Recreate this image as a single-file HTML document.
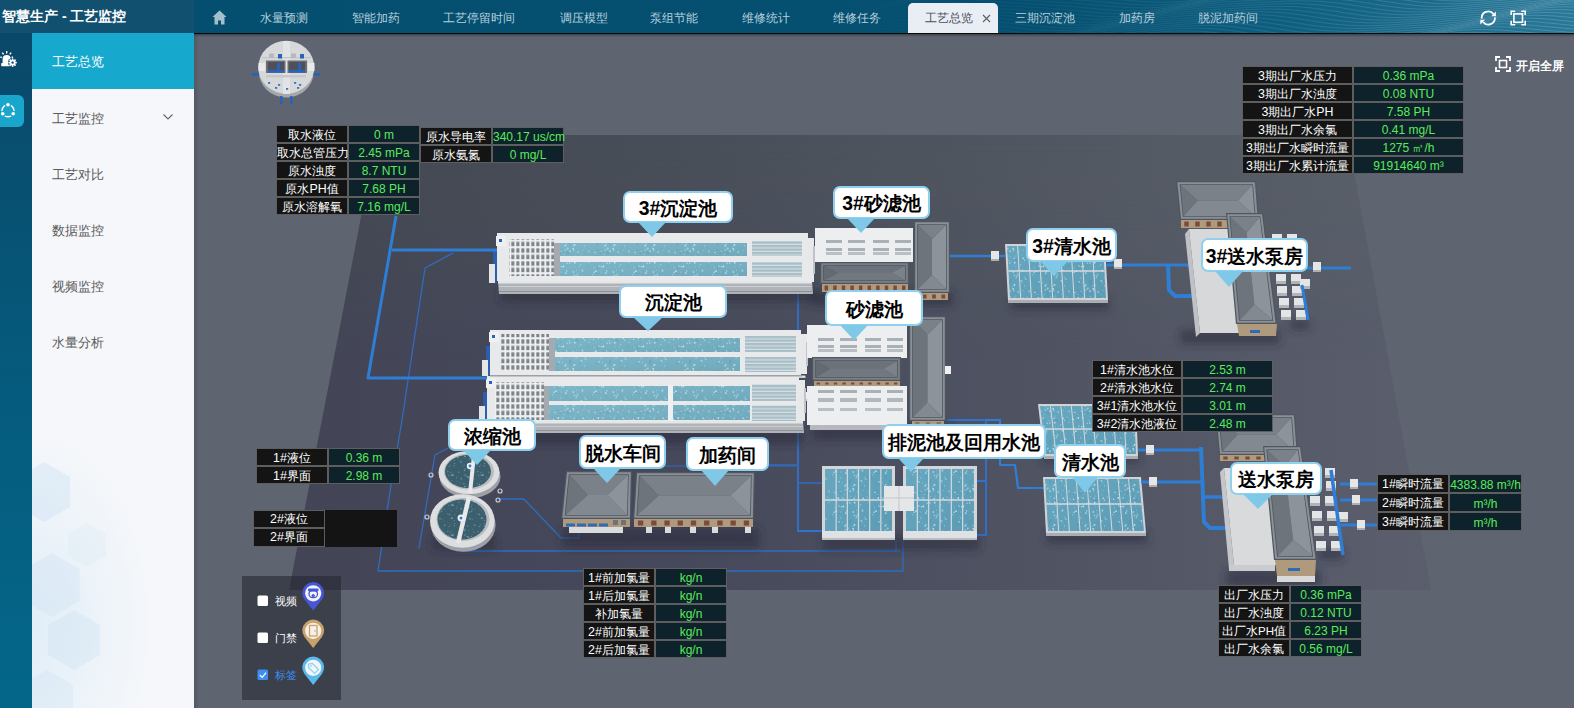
<!DOCTYPE html>
<html><head><meta charset="utf-8">
<style>
*{margin:0;padding:0;box-sizing:border-box}
html,body{width:1574px;height:708px;overflow:hidden;font-family:"Liberation Sans",sans-serif;background:#5e6470;position:relative}
.abs{position:absolute}
#hdrL{left:0;top:0;width:194px;height:33px;background:#12506f;color:#fff;font-size:14px;font-weight:700;line-height:32px;padding-left:2px}
#nav{left:194px;top:0;width:1380px;height:33px;background:linear-gradient(90deg,#044f70 0%,#054f70 60%,#0f5f80 80%,#2a7898 100%);overflow:hidden}
#navline{left:194px;top:33px;width:1380px;height:1px;background:#0a0a0a}
.tab{position:absolute;top:0;height:33px;line-height:37px;font-size:12.4px;font-weight:500;color:#b7cfdb;white-space:nowrap}
#icol{left:0;top:33px;width:32px;height:675px;background:linear-gradient(180deg,#0a4869 0%,#055a7c 50%,#04678a 100%)}
#menu{left:32px;top:33px;width:162px;height:675px;background:#f5f7fa;overflow:hidden}
.mi{position:absolute;left:0;width:162px;height:56px;line-height:59px;padding-left:20px;font-size:12.5px;color:#5a5a5a}
#scene{left:0;top:0}
.tb{position:absolute}
.r{display:flex;height:18px}
.l,.v{display:block;border:1px solid #5e5e5e;height:18px;line-height:16px;text-align:center;font-size:12px;white-space:nowrap;overflow:visible}
.l{background:#141414;color:#fff;font-weight:500;font-size:12.4px}
.v{background:#0e222c;color:#5aeb5a}
.lb{position:absolute;background:#fff;border:2px solid #8fd0ee;border-radius:7px;font-weight:bold;font-size:19.4px;color:#000;text-align:center;white-space:nowrap}
.tri{position:absolute;width:0;height:0;border-left:14px solid transparent;border-right:14px solid transparent;border-top:14px solid #7fc8e8}
</style></head><body>

<div id="hdrL" class="abs">智慧生产 - 工艺监控</div>
<div id="nav" class="abs">
  <svg class="abs" style="left:620px;top:0" width="760" height="33"><defs><linearGradient id="gWv" x1="0" x2="1" y1="0" y2="0"><stop offset="0" stop-color="#fff" stop-opacity="0"/><stop offset="0.45" stop-color="#fff" stop-opacity="0.35"/><stop offset="1" stop-color="#fff" stop-opacity="0.9"/></linearGradient><mask id="mWv"><rect width="760" height="33" fill="url(#gWv)"/></mask></defs><g mask="url(#mWv)" opacity="0.32"><polyline points="0,-22.0 8,-20.7 16,-19.5 24,-18.5 32,-17.6 40,-17.0 48,-16.6 56,-16.4 64,-16.4 72,-16.7 80,-17.0 88,-17.5 96,-18.1 104,-18.6 112,-19.2 120,-19.7 128,-20.3 136,-20.8 144,-21.4 152,-22.1 160,-22.8 168,-23.7 176,-24.8 184,-25.9 192,-27.2 200,-28.5 208,-29.9 216,-31.2 224,-32.5 232,-33.5 240,-34.4 248,-35.0 256,-35.3 264,-35.3 272,-35.1 280,-34.6 288,-33.9 296,-33.1 304,-32.2 312,-31.2 320,-30.4 328,-29.6 336,-28.9 344,-28.3 352,-27.8 360,-27.3 368,-26.9 376,-26.6 384,-26.2 392,-25.8 400,-25.3 408,-24.9 416,-24.4 424,-24.0 432,-23.7 440,-23.5 448,-23.5 456,-23.8 464,-24.3 472,-25.0 480,-26.0 488,-27.3 496,-28.7 504,-30.2 512,-31.8 520,-33.3 528,-34.8 536,-36.1 544,-37.2 552,-38.1 560,-38.9 568,-39.4 576,-39.7 584,-39.9 592,-40.0 600,-40.0 608,-40.0 616,-40.0 624,-40.0 632,-39.9 640,-39.9 648,-39.8 656,-39.6 664,-39.3 672,-38.8 680,-38.2 688,-37.4 696,-36.4 704,-35.3 712,-34.2 720,-33.0 728,-31.9 736,-31.0 744,-30.2 752,-29.6 760,-29.4" fill="none" stroke="#d8eef7" stroke-width="0.7"/><polyline points="0,-17.6 8,-16.4 16,-15.4 24,-14.6 32,-14.1 40,-13.7 48,-13.6 56,-13.8 64,-14.0 72,-14.4 80,-14.9 88,-15.4 96,-16.0 104,-16.5 112,-17.0 120,-17.5 128,-18.1 136,-18.7 144,-19.4 152,-20.2 160,-21.1 168,-22.2 176,-23.4 184,-24.7 192,-26.1 200,-27.5 208,-28.8 216,-30.0 224,-31.0 232,-31.8 240,-32.3 248,-32.5 256,-32.4 264,-32.1 272,-31.5 280,-30.8 288,-30.0 296,-29.1 304,-28.2 312,-27.4 320,-26.6 328,-26.0 336,-25.4 344,-24.9 352,-24.5 360,-24.1 368,-23.7 376,-23.3 384,-22.9 392,-22.4 400,-21.9 408,-21.5 416,-21.1 424,-20.8 432,-20.7 440,-20.7 448,-21.0 456,-21.6 464,-22.5 472,-23.5 480,-24.8 488,-26.3 496,-27.8 504,-29.4 512,-30.9 520,-32.3 528,-33.6 536,-34.6 544,-35.5 552,-36.1 560,-36.6 568,-36.9 576,-37.0 584,-37.1 592,-37.2 600,-37.2 608,-37.2 616,-37.2 624,-37.2 632,-37.2 640,-37.0 648,-36.8 656,-36.4 664,-35.9 672,-35.2 680,-34.3 688,-33.3 696,-32.2 704,-31.0 712,-29.9 720,-28.8 728,-27.9 736,-27.2 744,-26.7 752,-26.5 760,-26.6" fill="none" stroke="#d8eef7" stroke-width="0.7"/><polyline points="0,-13.3 8,-12.4 16,-11.7 24,-11.2 32,-11.0 40,-10.9 48,-11.1 56,-11.4 64,-11.8 72,-12.3 80,-12.8 88,-13.3 96,-13.8 104,-14.3 112,-14.8 120,-15.3 128,-16.0 136,-16.7 144,-17.5 152,-18.6 160,-19.7 168,-21.0 176,-22.3 184,-23.7 192,-25.1 200,-26.4 208,-27.5 216,-28.5 224,-29.2 232,-29.6 240,-29.7 248,-29.5 256,-29.1 264,-28.5 272,-27.7 280,-26.9 288,-26.0 296,-25.2 304,-24.4 312,-23.7 320,-23.1 328,-22.6 336,-22.1 344,-21.7 352,-21.3 360,-20.9 368,-20.5 376,-20.0 384,-19.5 392,-19.0 400,-18.5 408,-18.1 416,-17.9 424,-17.8 432,-17.9 440,-18.3 448,-19.0 456,-19.9 464,-21.1 472,-22.4 480,-23.9 488,-25.5 496,-27.0 504,-28.5 512,-29.9 520,-31.1 528,-32.0 536,-32.8 544,-33.4 552,-33.8 560,-34.0 568,-34.2 576,-34.3 584,-34.3 592,-34.4 600,-34.4 608,-34.5 616,-34.5 624,-34.4 632,-34.3 640,-34.0 648,-33.6 656,-33.0 664,-32.2 672,-31.3 680,-30.2 688,-29.1 696,-27.9 704,-26.7 712,-25.7 720,-24.9 728,-24.2 736,-23.9 744,-23.8 752,-24.0 760,-24.4" fill="none" stroke="#d8eef7" stroke-width="0.7"/><polyline points="0,-9.4 8,-8.8 16,-8.4 24,-8.2 32,-8.2 40,-8.4 48,-8.8 56,-9.2 64,-9.6 72,-10.1 80,-10.6 88,-11.0 96,-11.5 104,-12.0 112,-12.6 120,-13.2 128,-14.0 136,-14.9 144,-16.0 152,-17.2 160,-18.5 168,-19.9 176,-21.3 184,-22.7 192,-24.0 200,-25.1 208,-25.9 216,-26.5 224,-26.8 232,-26.8 240,-26.6 248,-26.1 256,-25.4 264,-24.7 272,-23.8 280,-23.0 288,-22.2 296,-21.4 304,-20.8 312,-20.2 320,-19.7 328,-19.3 336,-18.9 344,-18.5 352,-18.0 360,-17.6 368,-17.0 376,-16.5 384,-16.0 392,-15.5 400,-15.2 408,-14.9 416,-14.9 424,-15.2 432,-15.6 440,-16.4 448,-17.4 456,-18.7 464,-20.1 472,-21.6 480,-23.1 488,-24.7 496,-26.1 504,-27.4 512,-28.5 520,-29.4 528,-30.1 536,-30.6 544,-31.0 552,-31.2 560,-31.4 568,-31.5 576,-31.5 584,-31.6 592,-31.7 600,-31.7 608,-31.7 616,-31.7 624,-31.5 632,-31.2 640,-30.7 648,-30.0 656,-29.2 664,-28.2 672,-27.1 680,-25.9 688,-24.7 696,-23.6 704,-22.6 712,-21.8 720,-21.3 728,-21.0 736,-21.0 744,-21.3 752,-21.8 760,-22.6" fill="none" stroke="#d8eef7" stroke-width="0.7"/><polyline points="0,-5.9 8,-5.6 16,-5.5 24,-5.6 32,-5.8 40,-6.1 48,-6.5 56,-7.0 64,-7.4 72,-7.9 80,-8.3 88,-8.8 96,-9.3 104,-9.9 112,-10.5 120,-11.4 128,-12.4 136,-13.5 144,-14.7 152,-16.1 160,-17.5 168,-19.0 176,-20.3 184,-21.5 192,-22.5 200,-23.3 208,-23.8 216,-24.0 224,-23.9 232,-23.6 240,-23.1 248,-22.4 256,-21.6 264,-20.8 272,-20.0 280,-19.2 288,-18.5 296,-17.9 304,-17.4 312,-16.9 320,-16.5 328,-16.1 336,-15.6 344,-15.2 352,-14.6 360,-14.1 368,-13.5 376,-13.0 384,-12.5 392,-12.2 400,-12.0 408,-12.1 416,-12.4 424,-13.0 432,-13.9 440,-15.0 448,-16.3 456,-17.7 464,-19.2 472,-20.8 480,-22.3 488,-23.7 496,-24.9 504,-25.9 512,-26.7 520,-27.4 528,-27.8 536,-28.2 544,-28.4 552,-28.5 560,-28.6 568,-28.8 576,-28.9 584,-28.9 592,-29.0 600,-29.0 608,-28.9 616,-28.7 624,-28.3 632,-27.8 640,-27.1 648,-26.1 656,-25.1 664,-23.9 672,-22.7 680,-21.6 688,-20.5 696,-19.6 704,-18.9 712,-18.4 720,-18.2 728,-18.3 736,-18.7 744,-19.3 752,-20.0 760,-20.9" fill="none" stroke="#d8eef7" stroke-width="0.7"/><polyline points="0,-2.8 8,-2.8 16,-2.9 24,-3.1 32,-3.5 40,-3.9 48,-4.3 56,-4.7 64,-5.1 72,-5.5 80,-6.0 88,-6.5 96,-7.1 104,-7.9 112,-8.8 120,-9.8 128,-11.0 136,-12.3 144,-13.7 152,-15.2 160,-16.6 168,-17.9 176,-19.0 184,-20.0 192,-20.7 200,-21.1 208,-21.2 216,-21.0 224,-20.6 232,-20.0 240,-19.3 248,-18.5 256,-17.7 264,-16.9 272,-16.2 280,-15.6 288,-15.0 296,-14.5 304,-14.1 312,-13.7 320,-13.2 328,-12.8 336,-12.3 344,-11.7 352,-11.1 360,-10.5 368,-10.0 376,-9.6 384,-9.3 392,-9.2 400,-9.3 408,-9.7 416,-10.4 424,-11.3 432,-12.5 440,-13.9 448,-15.4 456,-16.9 464,-18.4 472,-19.9 480,-21.2 488,-22.3 496,-23.3 504,-24.0 512,-24.6 520,-25.0 528,-25.3 536,-25.5 544,-25.7 552,-25.9 560,-26.0 568,-26.1 576,-26.2 584,-26.3 592,-26.3 600,-26.2 608,-25.9 616,-25.5 624,-24.9 632,-24.1 640,-23.1 648,-22.0 656,-20.8 664,-19.6 672,-18.4 680,-17.4 688,-16.5 696,-15.9 704,-15.5 712,-15.5 720,-15.7 728,-16.1 736,-16.7 744,-17.5 752,-18.4 760,-19.3" fill="none" stroke="#d8eef7" stroke-width="0.7"/><polyline points="0,-0.1 8,-0.2 16,-0.5 24,-0.8 32,-1.2 40,-1.6 48,-2.0 56,-2.4 64,-2.8 72,-3.2 80,-3.8 88,-4.4 96,-5.2 104,-6.2 112,-7.3 120,-8.5 128,-9.9 136,-11.3 144,-12.8 152,-14.2 160,-15.5 168,-16.5 176,-17.4 184,-18.0 192,-18.3 200,-18.3 208,-18.1 216,-17.6 224,-17.0 232,-16.3 240,-15.5 248,-14.7 256,-14.0 264,-13.3 272,-12.7 280,-12.2 288,-11.7 296,-11.3 304,-10.8 312,-10.4 320,-9.9 328,-9.3 336,-8.7 344,-8.1 352,-7.5 360,-7.0 368,-6.6 376,-6.4 384,-6.3 392,-6.6 400,-7.1 408,-7.8 416,-8.8 424,-10.1 432,-11.5 440,-13.0 448,-14.5 456,-16.0 464,-17.4 472,-18.7 480,-19.8 488,-20.6 496,-21.3 504,-21.9 512,-22.2 520,-22.5 528,-22.7 536,-22.9 544,-23.1 552,-23.2 560,-23.4 568,-23.5 576,-23.6 584,-23.6 592,-23.4 600,-23.1 608,-22.6 616,-21.9 624,-21.0 632,-20.0 640,-18.8 648,-17.6 656,-16.4 664,-15.3 672,-14.3 680,-13.5 688,-13.0 696,-12.7 704,-12.7 712,-13.0 720,-13.5 728,-14.2 736,-15.0 744,-15.9 752,-16.8 760,-17.7" fill="none" stroke="#d8eef7" stroke-width="0.7"/><polyline points="0,2.4 8,2.2 16,1.8 24,1.5 32,1.1 40,0.8 48,0.4 56,-0.0 64,-0.5 72,-1.0 80,-1.7 88,-2.6 96,-3.6 104,-4.8 112,-6.1 120,-7.5 128,-9.0 136,-10.4 144,-11.8 152,-13.0 160,-14.0 168,-14.8 176,-15.3 184,-15.5 192,-15.4 200,-15.1 208,-14.6 216,-14.0 224,-13.2 232,-12.5 240,-11.7 248,-11.0 256,-10.4 264,-9.8 272,-9.3 280,-8.9 288,-8.4 296,-8.0 304,-7.5 312,-7.0 320,-6.4 328,-5.8 336,-5.1 344,-4.5 352,-4.0 360,-3.7 368,-3.5 376,-3.5 384,-3.8 392,-4.4 400,-5.3 408,-6.4 416,-7.7 424,-9.1 432,-10.6 440,-12.2 448,-13.6 456,-15.0 464,-16.2 472,-17.2 480,-18.0 488,-18.6 496,-19.1 504,-19.4 512,-19.7 520,-19.9 528,-20.1 536,-20.3 544,-20.5 552,-20.7 560,-20.8 568,-20.9 576,-20.8 584,-20.6 592,-20.2 600,-19.7 608,-18.9 616,-18.0 624,-16.9 632,-15.7 640,-14.4 648,-13.2 656,-12.2 664,-11.2 672,-10.5 680,-10.1 688,-9.9 696,-10.0 704,-10.4 712,-10.9 720,-11.7 728,-12.5 736,-13.4 744,-14.3 752,-15.1 760,-16.0" fill="none" stroke="#d8eef7" stroke-width="0.7"/><polyline points="0,4.8 8,4.5 16,4.2 24,3.9 32,3.5 40,3.2 48,2.8 56,2.3 64,1.7 72,0.9 80,0.0 88,-1.1 96,-2.3 104,-3.7 112,-5.1 120,-6.6 128,-8.0 136,-9.4 144,-10.5 152,-11.5 160,-12.1 168,-12.5 176,-12.7 184,-12.5 192,-12.1 200,-11.6 208,-10.9 216,-10.2 224,-9.4 232,-8.7 240,-8.1 248,-7.5 256,-7.0 264,-6.5 272,-6.1 280,-5.6 288,-5.2 296,-4.6 304,-4.1 312,-3.4 320,-2.8 328,-2.1 336,-1.5 344,-1.0 352,-0.7 360,-0.6 368,-0.7 376,-1.1 384,-1.8 392,-2.8 400,-3.9 408,-5.3 416,-6.8 424,-8.3 432,-9.8 440,-11.2 448,-12.5 456,-13.6 464,-14.5 472,-15.3 480,-15.8 488,-16.3 496,-16.6 504,-16.9 512,-17.1 520,-17.4 528,-17.6 536,-17.8 544,-18.0 552,-18.1 560,-18.2 568,-18.1 576,-17.8 584,-17.4 592,-16.7 600,-15.9 608,-14.9 616,-13.7 624,-12.5 632,-11.3 640,-10.1 648,-9.1 656,-8.2 664,-7.6 672,-7.3 680,-7.2 688,-7.4 696,-7.8 704,-8.4 712,-9.1 720,-10.0 728,-10.8 736,-11.7 744,-12.5 752,-13.3 760,-14.1" fill="none" stroke="#d8eef7" stroke-width="0.7"/><polyline points="0,7.2 8,6.9 16,6.6 24,6.3 32,6.0 40,5.5 48,5.0 56,4.4 64,3.6 72,2.6 80,1.5 88,0.2 96,-1.3 104,-2.7 112,-4.2 120,-5.6 128,-6.9 136,-8.0 144,-8.9 152,-9.5 160,-9.8 168,-9.8 176,-9.6 184,-9.1 192,-8.6 200,-7.9 208,-7.2 216,-6.5 224,-5.8 232,-5.2 240,-4.6 248,-4.1 256,-3.7 264,-3.2 272,-2.8 280,-2.3 288,-1.7 296,-1.1 304,-0.4 312,0.2 320,0.9 328,1.5 336,1.9 344,2.2 352,2.2 360,2.0 368,1.5 376,0.7 384,-0.3 392,-1.5 400,-2.9 408,-4.4 416,-5.9 424,-7.4 432,-8.7 440,-10.0 448,-11.0 456,-11.9 464,-12.5 472,-13.1 480,-13.5 488,-13.8 496,-14.1 504,-14.4 512,-14.6 520,-14.9 528,-15.1 536,-15.3 544,-15.4 552,-15.4 560,-15.3 568,-15.0 576,-14.5 584,-13.7 592,-12.8 600,-11.7 608,-10.6 616,-9.3 624,-8.1 632,-7.0 640,-6.0 648,-5.2 656,-4.7 664,-4.4 672,-4.5 680,-4.7 688,-5.2 696,-5.8 704,-6.6 712,-7.4 720,-8.3 728,-9.1 736,-9.9 744,-10.7 752,-11.4 760,-12.1" fill="none" stroke="#d8eef7" stroke-width="0.7"/><polyline points="0,9.7 8,9.4 16,9.1 24,8.7 32,8.3 40,7.8 48,7.1 56,6.2 64,5.2 72,3.9 80,2.6 88,1.1 96,-0.4 104,-1.9 112,-3.2 120,-4.5 128,-5.5 136,-6.3 144,-6.7 152,-6.9 160,-6.9 168,-6.6 176,-6.1 184,-5.5 192,-4.9 200,-4.2 208,-3.5 216,-2.9 224,-2.3 232,-1.8 240,-1.3 248,-0.9 256,-0.4 264,0.1 272,0.6 280,1.2 288,1.9 296,2.6 304,3.3 312,3.9 320,4.5 328,4.9 336,5.1 344,5.1 352,4.7 360,4.1 368,3.3 376,2.2 384,0.9 392,-0.6 400,-2.1 408,-3.5 416,-5.0 424,-6.3 432,-7.4 440,-8.4 448,-9.2 456,-9.8 464,-10.3 472,-10.7 480,-11.0 488,-11.3 496,-11.6 504,-11.9 512,-12.2 520,-12.4 528,-12.6 536,-12.7 544,-12.7 552,-12.5 560,-12.1 568,-11.5 576,-10.7 584,-9.7 592,-8.6 600,-7.4 608,-6.1 616,-4.9 624,-3.9 632,-3.0 640,-2.3 648,-1.8 656,-1.7 664,-1.8 672,-2.1 680,-2.6 688,-3.3 696,-4.0 704,-4.9 712,-5.7 720,-6.5 728,-7.2 736,-8.0 744,-8.7 752,-9.4 760,-10.2" fill="none" stroke="#d8eef7" stroke-width="0.7"/><polyline points="0,12.2 8,11.9 16,11.5 24,11.1 32,10.5 40,9.7 48,8.8 56,7.7 64,6.4 72,5.0 80,3.5 88,2.0 96,0.5 104,-0.8 112,-2.0 120,-2.9 128,-3.6 136,-4.0 144,-4.1 152,-4.0 160,-3.6 168,-3.1 176,-2.5 184,-1.8 192,-1.2 200,-0.5 208,0.1 216,0.6 224,1.1 232,1.5 240,2.0 248,2.4 256,2.9 264,3.5 272,4.2 280,4.9 288,5.6 296,6.3 304,6.9 312,7.5 320,7.8 328,8.0 336,7.8 344,7.4 352,6.7 360,5.8 368,4.6 376,3.3 384,1.8 392,0.3 400,-1.1 408,-2.5 416,-3.7 424,-4.8 432,-5.7 440,-6.5 448,-7.1 456,-7.5 464,-7.9 472,-8.3 480,-8.6 488,-8.9 496,-9.2 504,-9.5 512,-9.8 520,-9.9 528,-10.0 536,-9.9 544,-9.7 552,-9.2 560,-8.6 568,-7.7 576,-6.6 584,-5.5 592,-4.2 600,-3.0 608,-1.8 616,-0.8 624,0.1 632,0.7 640,1.0 648,1.1 656,0.9 664,0.5 672,-0.0 680,-0.7 688,-1.5 696,-2.3 704,-3.1 712,-3.8 720,-4.6 728,-5.3 736,-6.0 744,-6.7 752,-7.5 760,-8.3" fill="none" stroke="#d8eef7" stroke-width="0.7"/><polyline points="0,14.7 8,14.3 16,13.8 24,13.2 32,12.4 40,11.4 48,10.2 56,8.8 64,7.4 72,5.9 80,4.3 88,2.9 96,1.6 104,0.5 112,-0.3 120,-0.9 128,-1.2 136,-1.2 144,-1.0 152,-0.6 160,-0.1 168,0.5 176,1.2 184,1.8 192,2.4 200,2.9 208,3.4 216,3.9 224,4.3 232,4.8 240,5.3 248,5.8 256,6.4 264,7.1 272,7.9 280,8.6 288,9.3 296,10.0 304,10.5 312,10.7 320,10.8 328,10.6 336,10.1 344,9.3 352,8.2 360,7.0 368,5.6 376,4.2 384,2.7 392,1.3 400,-0.0 408,-1.2 416,-2.2 424,-3.1 432,-3.7 440,-4.3 448,-4.8 456,-5.1 464,-5.5 472,-5.8 480,-6.2 488,-6.5 496,-6.8 504,-7.1 512,-7.3 520,-7.3 528,-7.2 536,-6.8 544,-6.3 552,-5.6 560,-4.6 568,-3.5 576,-2.3 584,-1.0 592,0.2 600,1.3 608,2.3 616,3.0 624,3.6 632,3.8 640,3.8 648,3.6 656,3.1 664,2.5 672,1.8 680,1.1 688,0.3 696,-0.5 704,-1.2 712,-1.9 720,-2.6 728,-3.3 736,-4.0 744,-4.8 752,-5.7 760,-6.7" fill="none" stroke="#d8eef7" stroke-width="0.7"/><polyline points="0,17.1 8,16.6 16,15.9 24,15.0 32,13.9 40,12.6 48,11.2 56,9.7 64,8.2 72,6.7 80,5.3 88,4.1 96,3.1 104,2.3 112,1.8 120,1.6 128,1.7 136,1.9 144,2.4 152,2.9 160,3.5 168,4.1 176,4.7 184,5.3 192,5.8 200,6.3 208,6.7 216,7.1 224,7.6 232,8.1 240,8.7 248,9.4 256,10.1 264,10.9 272,11.7 280,12.4 288,13.0 296,13.4 304,13.6 312,13.6 320,13.3 328,12.7 336,11.8 344,10.7 352,9.4 360,8.0 368,6.5 376,5.1 384,3.7 392,2.5 400,1.4 408,0.4 416,-0.4 424,-1.0 432,-1.5 440,-2.0 448,-2.4 456,-2.7 464,-3.1 472,-3.5 480,-3.8 488,-4.2 496,-4.4 504,-4.6 512,-4.6 520,-4.4 528,-4.0 536,-3.4 544,-2.5 552,-1.5 560,-0.4 568,0.9 576,2.1 584,3.3 592,4.4 600,5.3 608,6.0 616,6.4 624,6.6 632,6.5 640,6.2 648,5.7 656,5.1 664,4.4 672,3.6 680,2.9 688,2.2 696,1.5 704,0.8 712,0.1 720,-0.6 728,-1.3 736,-2.2 744,-3.1 752,-4.1 760,-5.3" fill="none" stroke="#d8eef7" stroke-width="0.7"/><polyline points="0,19.3 8,18.5 16,17.5 24,16.4 32,15.1 40,13.6 48,12.1 56,10.6 64,9.1 72,7.7 80,6.6 88,5.6 96,5.0 104,4.6 112,4.5 120,4.6 128,4.9 136,5.4 144,5.9 152,6.5 160,7.1 168,7.7 176,8.2 184,8.7 192,9.1 200,9.5 208,10.0 216,10.5 224,11.0 232,11.7 240,12.4 248,13.1 256,13.9 264,14.7 272,15.4 280,16.0 288,16.4 296,16.5 304,16.4 312,15.9 320,15.3 328,14.3 336,13.1 344,11.8 352,10.4 360,8.9 368,7.5 376,6.2 384,5.0 392,4.0 400,3.1 408,2.3 416,1.7 424,1.2 432,0.8 440,0.4 448,-0.0 456,-0.4 464,-0.8 472,-1.2 480,-1.5 488,-1.7 496,-1.9 504,-1.8 512,-1.5 520,-1.1 528,-0.4 536,0.5 544,1.6 552,2.8 560,4.1 568,5.3 576,6.5 584,7.5 592,8.3 600,8.9 608,9.2 616,9.3 624,9.2 632,8.8 640,8.3 648,7.7 656,7.0 664,6.2 672,5.5 680,4.9 688,4.2 696,3.5 704,2.9 712,2.1 720,1.4 728,0.5 736,-0.5 744,-1.6 752,-2.8 760,-4.1" fill="none" stroke="#d8eef7" stroke-width="0.7"/><polyline points="0,21.1 8,20.1 16,18.9 24,17.5 32,16.0 40,14.4 48,12.9 56,11.5 64,10.2 72,9.1 80,8.3 88,7.7 96,7.4 104,7.3 112,7.5 120,7.9 128,8.4 136,8.9 144,9.5 152,10.0 160,10.6 168,11.1 176,11.5 184,11.9 192,12.3 200,12.8 208,13.3 216,13.9 224,14.6 232,15.4 240,16.2 248,17.0 256,17.8 264,18.4 272,19.0 280,19.3 288,19.3 296,19.1 304,18.6 312,17.8 320,16.8 328,15.5 336,14.2 344,12.8 352,11.3 360,9.9 368,8.7 376,7.5 384,6.6 392,5.8 400,5.1 408,4.5 416,4.0 424,3.6 432,3.1 440,2.7 448,2.3 456,1.9 464,1.5 472,1.1 480,0.9 488,0.9 496,1.0 504,1.3 512,1.9 520,2.6 528,3.6 536,4.7 544,6.0 552,7.2 560,8.5 568,9.6 576,10.6 584,11.3 592,11.8 600,12.0 608,12.0 616,11.8 624,11.4 632,10.9 640,10.2 648,9.6 656,8.9 664,8.2 672,7.5 680,6.9 688,6.3 696,5.6 704,4.8 712,4.0 720,3.1 728,2.0 736,0.9 744,-0.3 752,-1.6 760,-2.9" fill="none" stroke="#d8eef7" stroke-width="0.7"/><polyline points="0,22.6 8,21.3 16,19.9 24,18.3 32,16.8 40,15.3 48,13.9 56,12.7 64,11.7 72,10.9 80,10.4 88,10.2 96,10.2 104,10.5 112,10.9 120,11.4 128,11.9 136,12.4 144,13.0 152,13.5 160,13.9 168,14.3 176,14.7 184,15.2 192,15.7 200,16.2 208,16.9 216,17.6 224,18.4 232,19.2 240,20.1 248,20.8 256,21.5 264,21.9 272,22.2 280,22.1 288,21.8 296,21.2 304,20.3 312,19.2 320,17.9 328,16.6 336,15.1 344,13.7 352,12.4 360,11.2 368,10.1 376,9.2 384,8.4 392,7.8 400,7.2 408,6.8 416,6.3 424,5.8 432,5.4 440,4.9 448,4.5 456,4.1 464,3.8 472,3.6 480,3.6 488,3.8 496,4.2 504,4.8 512,5.7 520,6.7 528,7.9 536,9.2 544,10.4 552,11.6 560,12.7 568,13.6 576,14.2 584,14.6 592,14.8 600,14.7 608,14.4 616,14.0 624,13.4 632,12.8 640,12.2 648,11.5 656,10.9 664,10.2 672,9.6 680,9.0 688,8.3 696,7.5 704,6.7 712,5.7 720,4.6 728,3.4 736,2.1 744,0.8 752,-0.5 760,-1.7" fill="none" stroke="#d8eef7" stroke-width="0.7"/><polyline points="0,23.7 8,22.2 16,20.7 24,19.1 32,17.7 40,16.3 48,15.2 56,14.2 64,13.6 72,13.2 80,13.1 88,13.2 96,13.4 104,13.8 112,14.3 120,14.9 128,15.4 136,15.9 144,16.3 152,16.7 160,17.1 168,17.5 176,18.0 184,18.5 192,19.1 200,19.8 208,20.6 216,21.4 224,22.3 232,23.1 240,23.9 248,24.5 256,24.9 264,25.0 272,24.9 280,24.5 288,23.8 296,22.8 304,21.6 312,20.3 320,18.9 328,17.5 336,16.2 344,14.9 352,13.7 360,12.7 368,11.9 376,11.2 384,10.5 392,10.0 400,9.5 408,9.0 416,8.6 424,8.1 432,7.6 440,7.1 448,6.7 456,6.5 464,6.3 472,6.4 480,6.6 488,7.1 496,7.8 504,8.8 512,9.9 520,11.1 528,12.3 536,13.6 544,14.8 552,15.8 560,16.6 568,17.1 576,17.5 584,17.5 592,17.4 600,17.1 608,16.6 616,16.0 624,15.4 632,14.8 640,14.2 648,13.5 656,12.9 664,12.3 672,11.7 680,11.0 688,10.2 696,9.3 704,8.2 712,7.1 720,5.8 728,4.5 736,3.2 744,1.9 752,0.8 760,-0.2" fill="none" stroke="#d8eef7" stroke-width="0.7"/><polyline points="0,24.6 8,23.0 16,21.5 24,20.1 32,18.8 40,17.7 48,16.9 56,16.3 64,16.0 72,15.9 80,16.1 88,16.4 96,16.8 104,17.3 112,17.8 120,18.3 128,18.7 136,19.2 144,19.6 152,19.9 160,20.4 168,20.8 176,21.4 184,22.1 192,22.8 200,23.6 208,24.5 216,25.4 224,26.2 232,26.9 240,27.4 248,27.8 256,27.8 264,27.6 272,27.1 280,26.3 288,25.3 296,24.1 304,22.7 312,21.3 320,20.0 328,18.6 336,17.4 344,16.3 352,15.4 360,14.6 368,13.9 376,13.3 384,12.8 392,12.2 400,11.7 408,11.2 416,10.7 424,10.2 432,9.8 440,9.4 448,9.1 456,9.0 464,9.1 472,9.5 480,10.1 488,10.9 496,11.9 504,13.0 512,14.3 520,15.5 528,16.7 536,17.9 544,18.8 552,19.5 560,20.0 568,20.2 576,20.2 584,20.0 592,19.7 600,19.2 608,18.6 616,18.0 624,17.4 632,16.8 640,16.3 648,15.7 656,15.1 664,14.4 672,13.7 680,12.8 688,11.9 696,10.8 704,9.6 712,8.3 720,6.9 728,5.6 736,4.3 744,3.2 752,2.3 760,1.6" fill="none" stroke="#d8eef7" stroke-width="0.7"/><polyline points="0,25.4 8,23.9 16,22.5 24,21.3 32,20.3 40,19.5 48,19.1 56,18.8 64,18.8 72,19.0 80,19.4 88,19.8 96,20.3 104,20.7 112,21.2 120,21.6 128,22.0 136,22.4 144,22.8 152,23.2 160,23.7 168,24.3 176,25.0 184,25.8 192,26.7 200,27.6 208,28.4 216,29.3 224,29.9 232,30.4 240,30.6 248,30.6 256,30.3 264,29.7 272,28.8 280,27.7 288,26.5 296,25.1 304,23.7 312,22.4 320,21.1 328,20.0 336,18.9 344,18.0 352,17.3 360,16.6 368,16.0 376,15.5 384,15.0 392,14.4 400,13.9 408,13.4 416,12.8 424,12.4 432,12.0 440,11.8 448,11.8 456,12.0 464,12.4 472,13.0 480,13.9 488,15.0 496,16.2 504,17.4 512,18.7 520,19.9 528,20.9 536,21.8 544,22.4 552,22.8 560,23.0 568,22.9 576,22.7 584,22.3 592,21.8 600,21.2 608,20.7 616,20.1 624,19.5 632,19.0 640,18.4 648,17.8 656,17.1 664,16.4 672,15.5 680,14.4 688,13.3 696,12.0 704,10.7 712,9.3 720,8.0 728,6.8 736,5.7 744,4.9 752,4.3 760,4.0" fill="none" stroke="#d8eef7" stroke-width="0.7"/><polyline points="0,26.2 8,24.9 16,23.8 24,22.9 32,22.2 40,21.8 48,21.7 56,21.8 64,22.0 72,22.3 80,22.8 88,23.2 96,23.6 104,24.0 112,24.4 120,24.8 128,25.2 136,25.6 144,26.0 152,26.6 160,27.2 168,28.0 176,28.8 184,29.7 192,30.6 200,31.5 208,32.3 216,32.9 224,33.3 232,33.5 240,33.4 248,32.9 256,32.2 264,31.3 272,30.1 280,28.9 288,27.5 296,26.2 304,24.8 312,23.6 320,22.5 328,21.6 336,20.7 344,20.0 352,19.4 360,18.8 368,18.2 376,17.7 384,17.1 392,16.5 400,16.0 408,15.5 416,15.0 424,14.7 432,14.5 440,14.5 448,14.8 456,15.3 464,16.0 472,17.0 480,18.1 488,19.3 496,20.6 504,21.9 512,23.0 520,24.0 528,24.8 536,25.3 544,25.7 552,25.7 560,25.6 568,25.3 576,24.9 584,24.4 592,23.9 600,23.3 608,22.8 616,22.2 624,21.7 632,21.1 640,20.5 648,19.8 656,19.0 664,18.1 672,17.0 680,15.8 688,14.5 696,13.1 704,11.7 712,10.4 720,9.2 728,8.2 736,7.5 744,7.0 752,6.8 760,6.9" fill="none" stroke="#d8eef7" stroke-width="0.7"/><polyline points="0,27.4 8,26.3 16,25.5 24,24.9 32,24.6 40,24.6 48,24.7 56,24.9 64,25.3 72,25.7 80,26.1 88,26.5 96,26.9 104,27.3 112,27.6 120,28.0 128,28.4 136,28.9 144,29.5 152,30.2 160,31.0 168,31.9 176,32.8 184,33.7 192,34.6 200,35.3 208,35.9 216,36.2 224,36.3 232,36.1 240,35.6 248,34.8 256,33.8 264,32.6 272,31.3 280,29.9 288,28.6 296,27.3 304,26.2 312,25.1 320,24.2 328,23.4 336,22.7 344,22.1 352,21.5 360,20.9 368,20.4 376,19.8 384,19.2 392,18.6 400,18.1 408,17.6 416,17.3 424,17.2 432,17.3 440,17.7 448,18.3 456,19.1 464,20.1 472,21.3 480,22.5 488,23.8 496,25.0 504,26.1 512,27.0 520,27.7 528,28.2 536,28.4 544,28.4 552,28.3 560,27.9 568,27.5 576,27.0 584,26.5 592,26.0 600,25.5 608,25.0 616,24.5 624,23.9 632,23.3 640,22.5 648,21.7 656,20.6 664,19.5 672,18.2 680,16.9 688,15.5 696,14.1 704,12.8 712,11.7 720,10.8 728,10.1 736,9.7 744,9.6 752,9.8 760,10.2" fill="none" stroke="#d8eef7" stroke-width="0.7"/><polyline points="0,28.9 8,28.2 16,27.7 24,27.5 32,27.5 40,27.6 48,27.9 56,28.2 64,28.6 72,29.0 80,29.4 88,29.7 96,30.1 104,30.4 112,30.8 120,31.2 128,31.8 136,32.4 144,33.2 152,34.0 160,34.9 168,35.9 176,36.8 184,37.7 192,38.4 200,38.9 208,39.1 216,39.1 224,38.7 232,38.1 240,37.3 248,36.2 256,35.0 264,33.7 272,32.3 280,31.0 288,29.8 296,28.7 304,27.7 312,26.9 320,26.1 328,25.4 336,24.8 344,24.2 352,23.6 360,23.0 368,22.4 376,21.8 384,21.2 392,20.7 400,20.3 408,20.0 416,20.0 424,20.1 432,20.6 440,21.3 448,22.2 456,23.2 464,24.4 472,25.7 480,27.0 488,28.1 496,29.2 504,30.0 512,30.6 520,31.0 528,31.2 536,31.1 544,30.9 552,30.6 560,30.1 568,29.7 576,29.2 584,28.7 592,28.2 600,27.7 608,27.2 616,26.6 624,26.0 632,25.2 640,24.3 648,23.2 656,22.0 664,20.7 672,19.3 680,17.9 688,16.5 696,15.3 704,14.2 712,13.4 720,12.8 728,12.5 736,12.5 744,12.8 752,13.3 760,13.9" fill="none" stroke="#d8eef7" stroke-width="0.7"/><polyline points="0,30.9 8,30.5 16,30.3 24,30.4 32,30.5 40,30.8 48,31.2 56,31.5 64,31.9 72,32.2 80,32.6 88,32.9 96,33.2 104,33.6 112,34.1 120,34.7 128,35.3 136,36.2 144,37.1 152,38.0 160,39.0 168,39.9 176,40.7 184,41.4 192,41.8 200,41.9 208,41.8 216,41.4 224,40.7 232,39.8 240,38.6 248,37.4 256,36.1 264,34.8 272,33.5 280,32.4 288,31.3 296,30.4 304,29.6 312,28.8 320,28.2 328,27.5 336,26.9 344,26.3 352,25.7 360,25.0 368,24.4 376,23.8 384,23.3 392,22.9 400,22.7 408,22.7 416,23.0 424,23.5 432,24.3 440,25.3 448,26.4 456,27.6 464,28.9 472,30.1 480,31.3 488,32.2 496,33.0 504,33.5 512,33.8 520,33.9 528,33.8 536,33.6 544,33.2 552,32.8 560,32.3 568,31.9 576,31.4 584,30.9 592,30.5 600,30.0 608,29.4 616,28.7 624,27.8 632,26.8 640,25.7 648,24.5 656,23.1 664,21.7 672,20.3 680,18.9 688,17.7 696,16.7 704,16.0 712,15.5 720,15.3 728,15.4 736,15.7 744,16.3 752,17.0 760,17.8" fill="none" stroke="#d8eef7" stroke-width="0.7"/><polyline points="0,33.3 8,33.2 16,33.3 24,33.5 32,33.8 40,34.1 48,34.4 56,34.8 64,35.1 72,35.4 80,35.7 88,36.0 96,36.4 104,36.9 112,37.6 120,38.3 128,39.2 136,40.1 144,41.1 152,42.1 160,43.0 168,43.8 176,44.4 184,44.7 192,44.8 200,44.5 208,44.0 216,43.2 224,42.2 232,41.1 240,39.8 248,38.5 256,37.2 264,36.0 272,34.9 280,33.9 288,33.0 296,32.3 304,31.6 312,30.9 320,30.3 328,29.6 336,29.0 344,28.3 352,27.6 360,27.0 368,26.4 376,25.9 384,25.6 392,25.4 400,25.5 408,25.9 416,26.5 424,27.3 432,28.4 440,29.6 448,30.8 456,32.1 464,33.3 472,34.3 480,35.2 488,35.9 496,36.4 504,36.6 512,36.6 520,36.5 528,36.2 536,35.8 544,35.4 552,35.0 560,34.6 568,34.1 576,33.7 584,33.2 592,32.7 600,32.1 608,31.3 616,30.4 624,29.4 632,28.2 640,26.9 648,25.5 656,24.1 664,22.7 672,21.4 680,20.2 688,19.3 696,18.6 704,18.2 712,18.1 720,18.3 728,18.7 736,19.3 744,20.1 752,20.9 760,21.7" fill="none" stroke="#d8eef7" stroke-width="0.7"/><polyline points="0,36.1 8,36.2 16,36.4 24,36.7 32,37.0 40,37.3 48,37.6 56,37.9 64,38.2 72,38.5 80,38.8 88,39.3 96,39.8 104,40.5 112,41.3 120,42.2 128,43.2 136,44.2 144,45.2 152,46.1 160,46.8 168,47.3 176,47.6 184,47.5 192,47.2 200,46.6 208,45.7 216,44.7 224,43.5 232,42.2 240,41.0 248,39.7 256,38.6 264,37.5 272,36.5 280,35.7 288,35.0 296,34.3 304,33.6 312,33.0 320,32.3 328,31.6 336,30.9 344,30.2 352,29.5 360,29.0 368,28.5 376,28.2 384,28.2 392,28.4 400,28.8 408,29.5 416,30.4 424,31.5 432,32.7 440,34.0 448,35.2 456,36.4 464,37.4 472,38.2 480,38.8 488,39.2 496,39.3 504,39.3 512,39.1 520,38.9 528,38.5 536,38.1 544,37.7 552,37.3 560,36.9 568,36.5 576,36.0 584,35.4 592,34.8 600,34.0 608,33.0 616,31.9 624,30.7 632,29.3 640,27.9 648,26.4 656,25.1 664,23.8 672,22.7 680,21.9 688,21.3 696,21.0 704,21.0 712,21.3 720,21.7 728,22.4 736,23.1 744,23.9 752,24.7 760,25.5" fill="none" stroke="#d8eef7" stroke-width="0.7"/><polyline points="0,39.1 8,39.3 16,39.6 24,39.9 32,40.2 40,40.4 48,40.7 56,40.9 64,41.3 72,41.6 80,42.1 88,42.7 96,43.5 104,44.3 112,45.3 120,46.3 128,47.3 136,48.3 144,49.1 152,49.8 160,50.2 168,50.4 176,50.2 184,49.8 192,49.1 200,48.2 208,47.1 216,45.9 224,44.7 232,43.4 240,42.2 248,41.1 256,40.1 264,39.2 272,38.4 280,37.7 288,37.0 296,36.3 304,35.6 312,34.9 320,34.2 328,33.5 336,32.8 344,32.1 352,31.5 360,31.1 368,30.9 376,31.0 384,31.2 392,31.8 400,32.5 408,33.5 416,34.7 424,35.9 432,37.2 440,38.4 448,39.5 456,40.4 464,41.2 472,41.7 480,42.0 488,42.1 496,42.0 504,41.8 512,41.5 520,41.2 528,40.8 536,40.4 544,40.0 552,39.6 560,39.2 568,38.7 576,38.2 584,37.5 592,36.6 600,35.6 608,34.4 616,33.1 624,31.7 632,30.3 640,28.8 648,27.5 656,26.2 664,25.2 672,24.5 680,24.0 688,23.8 696,23.9 704,24.2 712,24.7 720,25.4 728,26.2 736,26.9 744,27.7 752,28.4 760,29.0" fill="none" stroke="#d8eef7" stroke-width="0.7"/><polyline points="0,42.2 8,42.5 16,42.7 24,43.0 32,43.2 40,43.5 48,43.7 56,44.1 64,44.5 72,45.0 80,45.7 88,46.5 96,47.4 104,48.4 112,49.4 120,50.5 128,51.4 136,52.2 144,52.8 152,53.1 160,53.2 168,52.9 176,52.4 184,51.7 192,50.7 200,49.6 208,48.3 216,47.1 224,45.9 232,44.7 240,43.7 248,42.7 256,41.9 264,41.1 272,40.4 280,39.7 288,39.0 296,38.3 304,37.6 312,36.8 320,36.1 328,35.3 336,34.7 344,34.2 352,33.8 360,33.7 368,33.8 376,34.1 384,34.8 392,35.6 400,36.7 408,37.8 416,39.1 424,40.3 432,41.5 440,42.6 448,43.4 456,44.1 464,44.5 472,44.7 480,44.8 488,44.7 496,44.5 504,44.2 512,43.8 520,43.5 528,43.1 536,42.8 544,42.4 552,42.0 560,41.5 568,40.9 576,40.1 584,39.2 592,38.1 600,36.9 608,35.5 616,34.1 624,32.6 632,31.2 640,29.9 648,28.7 656,27.8 664,27.1 672,26.8 680,26.7 688,26.8 696,27.2 704,27.8 712,28.5 720,29.2 728,30.0 736,30.7 744,31.3 752,31.9 760,32.5" fill="none" stroke="#d8eef7" stroke-width="0.7"/><polyline points="0,45.4 8,45.6 16,45.8 24,46.0 32,46.2 40,46.5 48,46.9 56,47.3 64,47.9 72,48.6 80,49.5 88,50.5 96,51.5 104,52.6 112,53.6 120,54.5 128,55.2 136,55.7 144,56.0 152,55.9 160,55.6 168,55.0 176,54.2 184,53.1 192,52.0 200,50.8 208,49.6 216,48.4 224,47.3 232,46.3 240,45.4 248,44.6 256,43.8 264,43.1 272,42.4 280,41.7 288,41.0 296,40.2 304,39.4 312,38.6 320,37.9 328,37.3 336,36.8 344,36.5 352,36.4 360,36.6 368,37.1 376,37.8 384,38.7 392,39.8 400,41.0 408,42.3 416,43.5 424,44.6 432,45.6 440,46.4 448,47.0 456,47.3 464,47.5 472,47.5 480,47.4 488,47.1 496,46.8 504,46.5 512,46.2 520,45.9 528,45.6 536,45.2 544,44.8 552,44.2 560,43.6 568,42.8 576,41.8 584,40.7 592,39.4 600,37.9 608,36.5 616,35.0 624,33.6 632,32.3 640,31.2 648,30.4 656,29.8 664,29.5 672,29.5 680,29.8 688,30.2 696,30.8 704,31.5 712,32.2 720,33.0 728,33.6 736,34.3 744,34.8 752,35.3 760,35.8" fill="none" stroke="#d8eef7" stroke-width="0.7"/><polyline points="0,48.4 8,48.6 16,48.8 24,49.0 32,49.3 40,49.7 48,50.2 56,50.8 64,51.6 72,52.5 80,53.6 88,54.6 96,55.7 104,56.7 112,57.5 120,58.2 128,58.6 136,58.8 144,58.7 152,58.2 160,57.5 168,56.7 176,55.6 184,54.4 192,53.2 200,52.0 208,50.9 216,49.9 224,48.9 232,48.0 240,47.3 248,46.5 256,45.8 264,45.1 272,44.4 280,43.6 288,42.8 296,42.0 304,41.2 312,40.4 320,39.8 328,39.4 336,39.2 344,39.2 352,39.5 360,40.0 368,40.8 376,41.8 384,43.0 392,44.2 400,45.4 408,46.6 416,47.7 424,48.6 432,49.3 440,49.8 448,50.1 456,50.2 464,50.2 472,50.0 480,49.8 488,49.5 496,49.2 504,49.0 512,48.7 520,48.3 528,48.0 536,47.5 544,47.0 552,46.3 560,45.4 568,44.4 576,43.1 584,41.8 592,40.3 600,38.8 608,37.4 616,36.0 624,34.8 632,33.8 640,33.0 648,32.5 656,32.4 664,32.4 672,32.7 680,33.2 688,33.8 696,34.5 704,35.2 712,35.9 720,36.6 728,37.1 736,37.7 744,38.1 752,38.6 760,39.0" fill="none" stroke="#d8eef7" stroke-width="0.7"/><polyline points="0,51.4 8,51.6 16,51.8 24,52.1 32,52.5 40,53.1 48,53.8 56,54.6 64,55.6 72,56.7 80,57.8 88,58.8 96,59.8 104,60.6 112,61.2 120,61.5 128,61.6 136,61.3 144,60.8 152,60.1 160,59.1 168,58.0 176,56.9 184,55.7 192,54.5 200,53.5 208,52.5 216,51.6 224,50.7 232,50.0 240,49.2 248,48.5 256,47.8 264,47.0 272,46.2 280,45.3 288,44.5 296,43.7 304,43.0 312,42.4 320,42.1 328,41.9 336,42.0 344,42.4 352,43.0 360,43.9 368,45.0 376,46.1 384,47.4 392,48.6 400,49.7 408,50.7 416,51.6 424,52.2 432,52.6 440,52.9 448,52.9 456,52.9 464,52.7 472,52.5 480,52.2 488,52.0 496,51.7 504,51.4 512,51.1 520,50.8 528,50.3 536,49.7 544,48.9 552,48.0 560,46.9 568,45.6 576,44.2 584,42.7 592,41.2 600,39.7 608,38.4 616,37.3 624,36.3 632,35.7 640,35.3 648,35.2 656,35.4 664,35.7 672,36.2 680,36.9 688,37.5 696,38.2 704,38.9 712,39.5 720,40.0 728,40.5 736,41.0 744,41.4 752,41.9 760,42.4" fill="none" stroke="#d8eef7" stroke-width="0.7"/><polyline points="0,54.3 8,54.6 16,54.9 24,55.4 32,56.0 40,56.8 48,57.7 56,58.7 64,59.8 72,60.9 80,61.9 88,62.9 96,63.6 104,64.1 112,64.4 120,64.3 128,64.0 136,63.4 144,62.6 152,61.6 160,60.5 168,59.3 176,58.2 184,57.1 192,56.0 200,55.1 208,54.2 216,53.4 224,52.7 232,51.9 240,51.2 248,50.4 256,49.6 264,48.8 272,47.9 280,47.0 288,46.3 296,45.6 304,45.0 312,44.7 320,44.7 328,44.9 336,45.3 344,46.1 352,47.0 360,48.1 368,49.3 376,50.5 384,51.7 392,52.8 400,53.8 408,54.5 416,55.1 424,55.4 432,55.6 440,55.7 448,55.6 456,55.4 464,55.2 472,55.0 480,54.7 488,54.5 496,54.2 504,53.9 512,53.5 520,53.0 528,52.4 536,51.6 544,50.6 552,49.4 560,48.0 568,46.6 576,45.1 584,43.6 592,42.1 600,40.9 608,39.8 616,38.9 624,38.4 632,38.1 640,38.1 648,38.3 656,38.7 664,39.3 672,39.9 680,40.6 688,41.2 696,41.8 704,42.4 712,42.9 720,43.3 728,43.8 736,44.2 744,44.7 752,45.3 760,45.9" fill="none" stroke="#d8eef7" stroke-width="0.7"/><polyline points="0,57.4 8,57.7 16,58.3 24,58.9 32,59.8 40,60.7 48,61.8 56,62.9 64,64.0 72,65.0 80,65.9 88,66.6 96,67.0 104,67.2 112,67.0 120,66.6 128,65.9 136,65.1 144,64.1 152,63.0 160,61.8 168,60.7 176,59.6 184,58.6 192,57.7 200,56.9 208,56.1 216,55.4 224,54.6 232,53.9 240,53.1 248,52.2 256,51.3 264,50.4 272,49.6 280,48.8 288,48.1 296,47.7 304,47.4 312,47.5 320,47.8 328,48.3 336,49.1 344,50.1 352,51.3 360,52.5 368,53.7 376,54.9 384,55.9 392,56.8 400,57.5 408,57.9 416,58.2 424,58.4 432,58.4 440,58.3 448,58.1 456,57.9 464,57.7 472,57.5 480,57.3 488,57.0 496,56.7 504,56.3 512,55.8 520,55.1 528,54.2 536,53.1 544,51.8 552,50.4 560,48.9 568,47.4 576,45.9 584,44.5 592,43.3 600,42.3 608,41.6 616,41.1 624,40.9 632,41.0 640,41.3 648,41.7 656,42.3 664,42.9 672,43.5 680,44.2 688,44.7 696,45.2 704,45.7 712,46.2 720,46.6 728,47.1 736,47.6 744,48.2 752,48.8 760,49.5" fill="none" stroke="#d8eef7" stroke-width="0.7"/><polyline points="0,60.6 8,61.2 16,61.9 24,62.8 32,63.8 40,64.9 48,66.1 56,67.2 64,68.1 72,69.0 80,69.6 88,69.9 96,69.9 104,69.7 112,69.2 120,68.5 128,67.6 136,66.5 144,65.4 152,64.3 160,63.2 168,62.2 176,61.2 184,60.4 192,59.6 200,58.8 208,58.1 216,57.3 224,56.5 232,55.7 240,54.8 248,53.9 256,53.0 264,52.1 272,51.3 280,50.7 288,50.3 296,50.2 304,50.3 312,50.7 320,51.3 328,52.2 336,53.3 344,54.4 352,55.6 360,56.8 368,58.0 376,58.9 384,59.7 392,60.3 400,60.8 408,61.0 416,61.1 424,61.1 432,61.0 440,60.8 448,60.6 456,60.5 464,60.3 472,60.1 480,59.9 488,59.5 496,59.1 504,58.5 512,57.7 520,56.7 528,55.6 536,54.3 544,52.8 552,51.3 560,49.8 568,48.3 576,47.0 584,45.8 592,44.9 600,44.3 608,43.9 616,43.8 624,43.9 632,44.2 640,44.7 648,45.3 656,45.9 664,46.5 672,47.1 680,47.6 688,48.1 696,48.5 704,49.0 712,49.4 720,49.9 728,50.5 736,51.1 744,51.8 752,52.5 760,53.3" fill="none" stroke="#d8eef7" stroke-width="0.7"/></g></svg>
  <svg class="abs" style="left:18px;top:10px" width="15" height="15" viewBox="0 0 15 15"><path d="M7.5 0.5 L14.5 7 L12.5 7 L12.5 14.5 L9 14.5 L9 10.5 L6 10.5 L6 14.5 L2.5 14.5 L2.5 7 L0.5 7 Z" fill="#a3bfcc"/></svg>
  <div class="tab" style="left:66px">水量预测</div>
  <div class="tab" style="left:158px">智能加药</div>
  <div class="tab" style="left:249px">工艺停留时间</div>
  <div class="tab" style="left:366px">调压模型</div>
  <div class="tab" style="left:456px">泵组节能</div>
  <div class="tab" style="left:548px">维修统计</div>
  <div class="tab" style="left:639px">维修任务</div>
  <div class="abs" style="left:714px;top:3px;width:90px;height:30px;background:#e9eef4;border-radius:5px 5px 0 0"></div>
  <div class="tab" style="left:731px;color:#46505a">工艺总览</div>
  <svg class="abs" style="left:788px;top:14px" width="9" height="9"><path d="M1 1L8 8M8 1L1 8" stroke="#56606a" stroke-width="1.1"/></svg>
  <div class="tab" style="left:821px">三期沉淀池</div>
  <div class="tab" style="left:925px">加药房</div>
  <div class="tab" style="left:1004px">脱泥加药间</div>
  <svg class="abs" style="left:1286px;top:9px" width="17" height="17" viewBox="0 0 17 17"><path d="M13.50 4.94A6.6 6.6 0 0 0 1.73 9.58" stroke="#fff" stroke-width="1.8" fill="none"/><path d="M3.10 13.06A6.6 6.6 0 0 0 14.87 8.42" stroke="#fff" stroke-width="1.8" fill="none"/><path d="M11.2 7.3H15.9V2.6Z" fill="#fff"/><path d="M0.3 10.8H5.0L0.3 15.5Z" fill="#fff"/></svg>
  <svg class="abs" style="left:1316px;top:10px" width="17" height="16" viewBox="0 0 17 16"><path d="M1.2 5V1.2H5.2M11.3 1.2H15.2V5M15.2 10.8V14.8H11.3M5.2 14.8H1.2V10.8" stroke="#fff" stroke-width="1.6" fill="none"/><rect x="3.9" y="3.9" width="8.6" height="8.4" stroke="#fff" stroke-width="1.6" fill="none"/></svg>
</div>
<div id="navline" class="abs"></div>
<div id="icol" class="abs">
  <svg class="abs" style="left:0;top:17px" width="18" height="18" viewBox="0 0 18 18">
    <path d="M2.6 13V9.2A4.1 4.1 0 0 1 10.8 9.2V13Z" fill="#fff"/><rect x="1.2" y="13" width="9" height="3.2" rx="0.6" fill="#fff"/>
    <path d="M6.7 1V3.4M2.2 2.6L3.6 4.4M11.2 2.6L9.8 4.4M0.3 7.2H1.8M13.1 7.2H11.6" stroke="#fff" stroke-width="1.4"/>
    <circle cx="12.6" cy="12.6" r="4.6" fill="#0b4a6b"/>
    <g fill="#fff"><circle cx="12.6" cy="12.6" r="2.9"/>
    <rect x="11.8" y="8.4" width="1.6" height="8.4"/><rect x="8.4" y="11.8" width="8.4" height="1.6"/>
    <rect x="11.8" y="8.4" width="1.6" height="8.4" transform="rotate(45 12.6 12.6)"/><rect x="8.4" y="11.8" width="8.4" height="1.6" transform="rotate(45 12.6 12.6)"/></g>
    <circle cx="12.6" cy="12.6" r="1.2" fill="#0b4a6b"/>
  </svg>
  <div class="abs" style="left:0;top:62px;width:24px;height:32px;background:#1aa5cc;border-radius:0 6px 6px 0"></div>
  <svg class="abs" style="left:0;top:69px" width="18" height="18" viewBox="0 0 18 18">
    <circle cx="8" cy="8.7" r="6" fill="none" stroke="#fff" stroke-width="1.5"/>
    <circle cx="8" cy="2.7" r="2.4" fill="#fff" stroke="#1aa5cc" stroke-width="1.2"/><circle cx="2.8" cy="11.7" r="2.4" fill="#fff" stroke="#1aa5cc" stroke-width="1.2"/><circle cx="13.2" cy="11.7" r="2.4" fill="#fff" stroke="#1aa5cc" stroke-width="1.2"/>
  </svg>
</div>
<div id="menu" class="abs">
  <svg class="abs" style="left:0;top:0" width="162" height="675"><defs><radialGradient id="gHx" cx="0" cy="590" r="1" gradientUnits="userSpaceOnUse" gradientTransform="translate(0 590) scale(120 190) translate(0 -590)"><stop offset="0" stop-color="#d9eaf7"/><stop offset="1" stop-color="#d9eaf7" stop-opacity="0"/></radialGradient></defs><rect x="0" y="380" width="162" height="295" fill="url(#gHx)" opacity="0.7"/><polygon points="38.0,474.0 12.0,489.0 -14.0,474.0 -14.0,444.0 12.0,429.0 38.0,444.0" fill="#c9e0f2" fill-opacity="0.38"/><polygon points="47.7,568.0 20.0,584.0 -7.7,568.0 -7.7,536.0 20.0,520.0 47.7,536.0" fill="#c9e0f2" fill-opacity="0.32"/><polygon points="68.0,622.0 42.0,637.0 16.0,622.0 16.0,592.0 42.0,577.0 68.0,592.0" fill="#c9e0f2" fill-opacity="0.36"/><polygon points="41.0,682.0 15.0,697.0 -11.0,682.0 -11.0,652.0 15.0,637.0 41.0,652.0" fill="#c9e0f2" fill-opacity="0.3"/><polygon points="74.1,523.0 55.0,534.0 35.9,523.0 35.9,501.0 55.0,490.0 74.1,501.0" fill="#c9e0f2" fill-opacity="0.14"/></svg>
  <div class="mi" style="top:0px;background:#17a9cd;color:#fff">工艺总览</div>
  <div class="mi" style="top:57px">工艺监控</div>
  <svg class="abs" style="left:131px;top:81px" width="10" height="6"><path d="M0.5 0.5L5 5L9.5 0.5" stroke="#666" stroke-width="1.1" fill="none"/></svg>
  <div class="mi" style="top:113px">工艺对比</div>
  <div class="mi" style="top:169px">数据监控</div>
  <div class="mi" style="top:225px">视频监控</div>
  <div class="mi" style="top:281px">水量分析</div>
</div>

<svg id="scene" class="abs" width="1574" height="708" viewBox="0 0 1574 708"><defs>
<linearGradient id="gPlane" x1="0" y1="135" x2="0" y2="590" gradientUnits="userSpaceOnUse">
 <stop offset="0" stop-color="#4b4f5f"/><stop offset="0.45" stop-color="#44475a"/><stop offset="1" stop-color="#3f4254"/>
</linearGradient>
<linearGradient id="gWater" x1="0" y1="0" x2="1" y2="1">
 <stop offset="0" stop-color="#7db7c9"/><stop offset="1" stop-color="#70a9bc"/>
</linearGradient>
<linearGradient id="gPool" x1="0" y1="0" x2="1" y2="1">
 <stop offset="0" stop-color="#67a7c0"/><stop offset="1" stop-color="#5e9cb5"/>
</linearGradient>
<pattern id="pSpk" width="40" height="40" patternUnits="userSpaceOnUse"><circle cx="13.0" cy="6.0" r="0.73" fill="#e6f4fa" fill-opacity="0.38"/><circle cx="21.4" cy="14.6" r="0.43" fill="#e6f4fa" fill-opacity="0.58"/><circle cx="1.5" cy="17.3" r="0.43" fill="#e6f4fa" fill-opacity="0.39"/><circle cx="17.0" cy="33.1" r="0.46" fill="#e6f4fa" fill-opacity="0.45"/><circle cx="25.1" cy="37.9" r="0.69" fill="#e6f4fa" fill-opacity="0.53"/><circle cx="39.1" cy="1.9" r="0.83" fill="#e6f4fa" fill-opacity="0.48"/><circle cx="5.8" cy="4.7" r="0.55" fill="#e6f4fa" fill-opacity="0.72"/><circle cx="7.2" cy="23.3" r="0.72" fill="#e6f4fa" fill-opacity="0.52"/><circle cx="21.9" cy="2.5" r="0.43" fill="#e6f4fa" fill-opacity="0.44"/><circle cx="27.2" cy="17.1" r="0.56" fill="#e6f4fa" fill-opacity="0.61"/><circle cx="18.1" cy="12.0" r="0.80" fill="#e6f4fa" fill-opacity="0.66"/><circle cx="9.8" cy="23.0" r="0.66" fill="#e6f4fa" fill-opacity="0.74"/><circle cx="29.2" cy="11.5" r="0.89" fill="#e6f4fa" fill-opacity="0.40"/><circle cx="16.7" cy="30.3" r="0.48" fill="#e6f4fa" fill-opacity="0.57"/><circle cx="1.6" cy="26.7" r="0.78" fill="#e6f4fa" fill-opacity="0.61"/><circle cx="35.0" cy="12.5" r="0.75" fill="#e6f4fa" fill-opacity="0.62"/><circle cx="23.2" cy="18.2" r="0.82" fill="#e6f4fa" fill-opacity="0.78"/><circle cx="19.0" cy="26.6" r="0.43" fill="#e6f4fa" fill-opacity="0.67"/><circle cx="25.9" cy="39.7" r="0.81" fill="#e6f4fa" fill-opacity="0.48"/><circle cx="15.4" cy="26.7" r="0.41" fill="#e6f4fa" fill-opacity="0.56"/><circle cx="6.7" cy="4.7" r="0.43" fill="#e6f4fa" fill-opacity="0.70"/><circle cx="5.2" cy="9.9" r="0.60" fill="#e6f4fa" fill-opacity="0.74"/><circle cx="3.2" cy="18.0" r="0.67" fill="#e6f4fa" fill-opacity="0.75"/><circle cx="32.8" cy="34.6" r="0.54" fill="#e6f4fa" fill-opacity="0.54"/><circle cx="14.4" cy="35.4" r="0.88" fill="#e6f4fa" fill-opacity="0.42"/><circle cx="7.0" cy="9.3" r="0.52" fill="#e6f4fa" fill-opacity="0.57"/><circle cx="23.6" cy="10.5" r="0.40" fill="#e6f4fa" fill-opacity="0.54"/><circle cx="14.8" cy="22.7" r="0.88" fill="#e6f4fa" fill-opacity="0.66"/><circle cx="20.6" cy="24.7" r="0.74" fill="#e6f4fa" fill-opacity="0.37"/><circle cx="36.0" cy="31.2" r="0.84" fill="#e6f4fa" fill-opacity="0.71"/><circle cx="15.7" cy="16.0" r="0.45" fill="#e6f4fa" fill-opacity="0.64"/><circle cx="2.5" cy="2.7" r="0.50" fill="#e6f4fa" fill-opacity="0.42"/><circle cx="13.6" cy="2.1" r="0.40" fill="#e6f4fa" fill-opacity="0.42"/><circle cx="4.1" cy="14.5" r="0.41" fill="#e6f4fa" fill-opacity="0.74"/><circle cx="24.6" cy="5.9" r="0.53" fill="#e6f4fa" fill-opacity="0.51"/><circle cx="14.6" cy="4.9" r="0.82" fill="#e6f4fa" fill-opacity="0.80"/><circle cx="18.6" cy="19.4" r="0.44" fill="#e6f4fa" fill-opacity="0.40"/><circle cx="13.7" cy="10.6" r="0.81" fill="#e6f4fa" fill-opacity="0.42"/><circle cx="0.9" cy="38.0" r="0.66" fill="#e6f4fa" fill-opacity="0.42"/><circle cx="21.7" cy="1.1" r="0.66" fill="#e6f4fa" fill-opacity="0.79"/><circle cx="34.5" cy="27.8" r="0.53" fill="#e6f4fa" fill-opacity="0.52"/><circle cx="6.7" cy="30.9" r="0.67" fill="#e6f4fa" fill-opacity="0.70"/><circle cx="13.2" cy="8.9" r="0.81" fill="#e6f4fa" fill-opacity="0.79"/><circle cx="34.1" cy="32.2" r="0.81" fill="#e6f4fa" fill-opacity="0.68"/><circle cx="9.1" cy="20.7" r="0.58" fill="#e6f4fa" fill-opacity="0.36"/><circle cx="1.1" cy="11.2" r="0.53" fill="#e6f4fa" fill-opacity="0.66"/><circle cx="38.3" cy="17.9" r="0.87" fill="#e6f4fa" fill-opacity="0.79"/><circle cx="38.2" cy="14.6" r="0.51" fill="#e6f4fa" fill-opacity="0.45"/><circle cx="7.9" cy="8.2" r="0.71" fill="#e6f4fa" fill-opacity="0.76"/><circle cx="33.6" cy="19.2" r="0.73" fill="#e6f4fa" fill-opacity="0.71"/><circle cx="3.4" cy="26.4" r="0.85" fill="#e6f4fa" fill-opacity="0.70"/><circle cx="30.0" cy="19.1" r="0.49" fill="#e6f4fa" fill-opacity="0.71"/><circle cx="13.3" cy="32.0" r="0.89" fill="#e6f4fa" fill-opacity="0.53"/><circle cx="16.1" cy="37.9" r="0.76" fill="#e6f4fa" fill-opacity="0.43"/><circle cx="5.1" cy="6.0" r="0.85" fill="#e6f4fa" fill-opacity="0.71"/><circle cx="5.8" cy="33.1" r="0.89" fill="#e6f4fa" fill-opacity="0.65"/><circle cx="14.0" cy="21.9" r="0.47" fill="#e6f4fa" fill-opacity="0.36"/><circle cx="38.8" cy="26.0" r="0.66" fill="#e6f4fa" fill-opacity="0.77"/><circle cx="17.4" cy="34.9" r="0.81" fill="#e6f4fa" fill-opacity="0.44"/><circle cx="10.1" cy="11.7" r="0.52" fill="#e6f4fa" fill-opacity="0.61"/><circle cx="10.4" cy="16.8" r="0.47" fill="#e6f4fa" fill-opacity="0.76"/><circle cx="14.2" cy="18.3" r="0.69" fill="#e6f4fa" fill-opacity="0.76"/><circle cx="16.8" cy="36.7" r="0.65" fill="#e6f4fa" fill-opacity="0.59"/><circle cx="20.9" cy="0.7" r="0.62" fill="#e6f4fa" fill-opacity="0.43"/><circle cx="0.2" cy="32.0" r="0.49" fill="#e6f4fa" fill-opacity="0.56"/><circle cx="29.0" cy="22.3" r="0.56" fill="#e6f4fa" fill-opacity="0.58"/><circle cx="22.2" cy="31.4" r="0.45" fill="#e6f4fa" fill-opacity="0.60"/><circle cx="9.9" cy="11.1" r="0.79" fill="#e6f4fa" fill-opacity="0.58"/><circle cx="22.5" cy="30.4" r="0.86" fill="#e6f4fa" fill-opacity="0.55"/><circle cx="24.5" cy="20.2" r="0.66" fill="#e6f4fa" fill-opacity="0.66"/><circle cx="18.1" cy="21.3" r="0.79" fill="#3f7f98" fill-opacity="0.22"/><circle cx="37.7" cy="28.0" r="1.03" fill="#3f7f98" fill-opacity="0.22"/><circle cx="37.7" cy="10.4" r="0.84" fill="#3f7f98" fill-opacity="0.22"/><circle cx="37.7" cy="33.6" r="0.58" fill="#3f7f98" fill-opacity="0.22"/><circle cx="4.9" cy="17.7" r="0.54" fill="#3f7f98" fill-opacity="0.22"/><circle cx="9.6" cy="2.9" r="0.90" fill="#3f7f98" fill-opacity="0.22"/><circle cx="31.4" cy="35.9" r="0.59" fill="#3f7f98" fill-opacity="0.22"/><circle cx="28.6" cy="26.4" r="0.59" fill="#3f7f98" fill-opacity="0.22"/><circle cx="35.3" cy="38.7" r="0.63" fill="#3f7f98" fill-opacity="0.22"/><circle cx="38.1" cy="15.9" r="0.79" fill="#3f7f98" fill-opacity="0.22"/><circle cx="39.6" cy="33.3" r="0.60" fill="#3f7f98" fill-opacity="0.22"/><circle cx="17.3" cy="20.6" r="0.70" fill="#3f7f98" fill-opacity="0.22"/><circle cx="7.8" cy="12.7" r="0.93" fill="#3f7f98" fill-opacity="0.22"/><circle cx="0.8" cy="22.2" r="0.76" fill="#3f7f98" fill-opacity="0.22"/><circle cx="0.7" cy="13.3" r="0.87" fill="#3f7f98" fill-opacity="0.22"/><circle cx="20.5" cy="2.6" r="1.09" fill="#3f7f98" fill-opacity="0.22"/><circle cx="31.5" cy="38.9" r="0.56" fill="#3f7f98" fill-opacity="0.22"/><circle cx="10.6" cy="1.6" r="0.97" fill="#3f7f98" fill-opacity="0.22"/><circle cx="10.8" cy="5.2" r="0.75" fill="#3f7f98" fill-opacity="0.22"/><circle cx="36.5" cy="32.8" r="0.66" fill="#3f7f98" fill-opacity="0.22"/><circle cx="6.0" cy="36.8" r="0.84" fill="#3f7f98" fill-opacity="0.22"/><circle cx="28.0" cy="3.6" r="0.53" fill="#3f7f98" fill-opacity="0.22"/><circle cx="27.5" cy="17.0" r="0.54" fill="#3f7f98" fill-opacity="0.22"/><circle cx="37.5" cy="25.4" r="0.98" fill="#3f7f98" fill-opacity="0.22"/><circle cx="3.3" cy="34.2" r="0.54" fill="#3f7f98" fill-opacity="0.22"/><circle cx="34.5" cy="18.2" r="0.70" fill="#3f7f98" fill-opacity="0.22"/><circle cx="22.1" cy="37.1" r="0.66" fill="#3f7f98" fill-opacity="0.22"/><circle cx="5.2" cy="21.1" r="0.64" fill="#3f7f98" fill-opacity="0.22"/><circle cx="4.4" cy="6.5" r="0.53" fill="#3f7f98" fill-opacity="0.22"/><circle cx="8.1" cy="12.5" r="0.68" fill="#3f7f98" fill-opacity="0.22"/><circle cx="30.4" cy="11.6" r="0.80" fill="#3f7f98" fill-opacity="0.22"/><circle cx="7.1" cy="13.9" r="0.51" fill="#3f7f98" fill-opacity="0.22"/><circle cx="10.0" cy="0.6" r="0.94" fill="#3f7f98" fill-opacity="0.22"/><circle cx="22.0" cy="7.6" r="0.78" fill="#3f7f98" fill-opacity="0.22"/><circle cx="37.4" cy="4.3" r="0.99" fill="#3f7f98" fill-opacity="0.22"/><circle cx="17.3" cy="19.8" r="1.00" fill="#3f7f98" fill-opacity="0.22"/><circle cx="15.7" cy="20.3" r="0.91" fill="#3f7f98" fill-opacity="0.22"/><circle cx="39.3" cy="13.7" r="1.00" fill="#3f7f98" fill-opacity="0.22"/><circle cx="28.3" cy="25.4" r="0.74" fill="#3f7f98" fill-opacity="0.22"/><circle cx="13.9" cy="2.2" r="0.58" fill="#3f7f98" fill-opacity="0.22"/></pattern><pattern id="pSpk2" width="30" height="30" patternUnits="userSpaceOnUse"><circle cx="2.1" cy="22.2" r="0.50" fill="#9cc3cf" fill-opacity="0.37"/><circle cx="2.5" cy="25.2" r="0.75" fill="#9cc3cf" fill-opacity="0.57"/><circle cx="8.5" cy="7.3" r="0.52" fill="#9cc3cf" fill-opacity="0.48"/><circle cx="4.7" cy="13.4" r="0.51" fill="#9cc3cf" fill-opacity="0.68"/><circle cx="29.2" cy="16.4" r="0.50" fill="#9cc3cf" fill-opacity="0.69"/><circle cx="9.3" cy="10.7" r="0.40" fill="#9cc3cf" fill-opacity="0.45"/><circle cx="14.2" cy="15.1" r="0.48" fill="#9cc3cf" fill-opacity="0.50"/><circle cx="0.1" cy="7.9" r="0.44" fill="#9cc3cf" fill-opacity="0.46"/><circle cx="1.3" cy="0.7" r="0.52" fill="#9cc3cf" fill-opacity="0.39"/><circle cx="17.6" cy="15.9" r="0.70" fill="#9cc3cf" fill-opacity="0.56"/><circle cx="21.5" cy="26.4" r="0.56" fill="#9cc3cf" fill-opacity="0.43"/><circle cx="29.5" cy="4.5" r="0.69" fill="#9cc3cf" fill-opacity="0.56"/><circle cx="1.3" cy="25.1" r="0.76" fill="#9cc3cf" fill-opacity="0.55"/><circle cx="22.0" cy="24.4" r="0.46" fill="#9cc3cf" fill-opacity="0.51"/><circle cx="15.1" cy="25.0" r="0.72" fill="#9cc3cf" fill-opacity="0.63"/><circle cx="17.5" cy="26.8" r="0.67" fill="#9cc3cf" fill-opacity="0.58"/><circle cx="6.9" cy="0.9" r="0.45" fill="#9cc3cf" fill-opacity="0.44"/><circle cx="3.1" cy="25.1" r="0.62" fill="#9cc3cf" fill-opacity="0.55"/><circle cx="18.8" cy="20.4" r="0.60" fill="#9cc3cf" fill-opacity="0.30"/><circle cx="23.9" cy="22.4" r="0.60" fill="#9cc3cf" fill-opacity="0.51"/><circle cx="19.8" cy="2.0" r="0.69" fill="#9cc3cf" fill-opacity="0.40"/><circle cx="2.2" cy="8.0" r="0.69" fill="#9cc3cf" fill-opacity="0.38"/><circle cx="22.2" cy="29.3" r="0.60" fill="#9cc3cf" fill-opacity="0.45"/><circle cx="14.4" cy="20.5" r="0.71" fill="#9cc3cf" fill-opacity="0.55"/><circle cx="19.3" cy="2.3" r="0.46" fill="#9cc3cf" fill-opacity="0.40"/><circle cx="22.3" cy="9.1" r="0.63" fill="#9cc3cf" fill-opacity="0.30"/><circle cx="1.8" cy="8.1" r="0.67" fill="#9cc3cf" fill-opacity="0.58"/><circle cx="20.3" cy="8.7" r="0.61" fill="#9cc3cf" fill-opacity="0.49"/><circle cx="14.0" cy="3.6" r="0.76" fill="#9cc3cf" fill-opacity="0.38"/><circle cx="29.3" cy="28.1" r="0.41" fill="#9cc3cf" fill-opacity="0.48"/><circle cx="24.6" cy="29.0" r="0.58" fill="#9cc3cf" fill-opacity="0.41"/><circle cx="6.3" cy="28.4" r="0.48" fill="#9cc3cf" fill-opacity="0.53"/><circle cx="4.3" cy="15.7" r="0.78" fill="#9cc3cf" fill-opacity="0.35"/><circle cx="24.6" cy="15.3" r="0.75" fill="#9cc3cf" fill-opacity="0.58"/><circle cx="6.9" cy="26.9" r="0.59" fill="#9cc3cf" fill-opacity="0.31"/><circle cx="0.1" cy="14.8" r="0.58" fill="#9cc3cf" fill-opacity="0.42"/><circle cx="4.2" cy="10.3" r="0.53" fill="#9cc3cf" fill-opacity="0.64"/><circle cx="0.1" cy="22.5" r="0.74" fill="#9cc3cf" fill-opacity="0.35"/><circle cx="27.8" cy="21.4" r="0.76" fill="#9cc3cf" fill-opacity="0.42"/><circle cx="11.2" cy="11.8" r="0.80" fill="#9cc3cf" fill-opacity="0.54"/><circle cx="10.8" cy="12.8" r="0.51" fill="#9cc3cf" fill-opacity="0.32"/><circle cx="3.1" cy="25.0" r="0.51" fill="#9cc3cf" fill-opacity="0.67"/><circle cx="7.5" cy="8.0" r="0.60" fill="#9cc3cf" fill-opacity="0.38"/><circle cx="11.2" cy="28.7" r="0.75" fill="#9cc3cf" fill-opacity="0.62"/><circle cx="18.9" cy="27.4" r="0.78" fill="#9cc3cf" fill-opacity="0.52"/><circle cx="21.6" cy="1.5" r="0.69" fill="#9cc3cf" fill-opacity="0.48"/><circle cx="22.6" cy="19.3" r="0.51" fill="#9cc3cf" fill-opacity="0.32"/><circle cx="27.8" cy="3.8" r="0.59" fill="#9cc3cf" fill-opacity="0.44"/><circle cx="8.9" cy="22.2" r="0.79" fill="#9cc3cf" fill-opacity="0.40"/><circle cx="19.7" cy="9.0" r="0.62" fill="#9cc3cf" fill-opacity="0.46"/><circle cx="5.0" cy="4.8" r="0.48" fill="#9cc3cf" fill-opacity="0.66"/><circle cx="14.9" cy="6.6" r="0.76" fill="#9cc3cf" fill-opacity="0.70"/><circle cx="13.5" cy="4.2" r="0.48" fill="#9cc3cf" fill-opacity="0.34"/><circle cx="10.3" cy="2.7" r="0.50" fill="#9cc3cf" fill-opacity="0.40"/><circle cx="17.1" cy="26.6" r="0.70" fill="#9cc3cf" fill-opacity="0.47"/><circle cx="12.4" cy="15.7" r="0.55" fill="#9cc3cf" fill-opacity="0.44"/><circle cx="1.9" cy="8.3" r="0.79" fill="#9cc3cf" fill-opacity="0.35"/><circle cx="15.1" cy="18.9" r="0.75" fill="#9cc3cf" fill-opacity="0.39"/><circle cx="8.1" cy="7.5" r="0.56" fill="#9cc3cf" fill-opacity="0.48"/><circle cx="28.6" cy="25.5" r="0.75" fill="#9cc3cf" fill-opacity="0.31"/></pattern><pattern id="pGrid" width="5" height="6.5" patternUnits="userSpaceOnUse">
 <rect width="5" height="6.5" fill="#eef0f1"/><rect x="1.3" y="1.3" width="3.1" height="4.4" fill="#7f858b"/>
</pattern>
<pattern id="pGrate" width="4" height="3.5" patternUnits="userSpaceOnUse">
 <rect width="4" height="3.5" fill="#a6bfc8"/><rect y="2.3" width="4" height="1.2" fill="#d8dde0"/>
</pattern>
</defs>
<defs>
<linearGradient id="gPB" x1="289" y1="0" x2="1431" y2="0" gradientUnits="userSpaceOnUse">
 <stop offset="0" stop-color="#434557"/><stop offset="0.35" stop-color="#46495b"/><stop offset="0.65" stop-color="#4f5362"/><stop offset="0.9" stop-color="#575b6a"/><stop offset="1" stop-color="#5a5e6d"/>
</linearGradient>
<linearGradient id="gPT" x1="289" y1="0" x2="1431" y2="0" gradientUnits="userSpaceOnUse">
 <stop offset="0" stop-color="#434852"/><stop offset="0.4" stop-color="#4a505a"/><stop offset="0.75" stop-color="#545a64"/><stop offset="1" stop-color="#5a606a"/>
</linearGradient>
<linearGradient id="gPM" x1="0" y1="135" x2="0" y2="360" gradientUnits="userSpaceOnUse">
 <stop offset="0" stop-color="#fff"/><stop offset="0.45" stop-color="#fff" stop-opacity="0.8"/><stop offset="1" stop-color="#fff" stop-opacity="0"/>
</linearGradient>
<mask id="mPT" maskUnits="userSpaceOnUse" x="0" y="0" width="1574" height="708"><rect x="0" y="0" width="1574" height="708" fill="url(#gPM)"/></mask>
<filter id="fSh" x="-20%" y="-20%" width="140%" height="160%"><feGaussianBlur stdDeviation="4"/></filter>
</defs>
<polygon points="377,135 1347,135 1431,590 289,590" fill="url(#gPB)" />
<polygon points="377,135 1347,135 1431,590 289,590" fill="url(#gPT)" mask="url(#mPT)"/>
<polyline points="453,253 425,268 402,420 391,485 378,571 583,571" fill="none" stroke="#2f6cc0" stroke-width="1.3" stroke-linejoin="round" stroke-linecap="round"/>
<polyline points="448,448 435,455 419,548" fill="none" stroke="#2f6cc0" stroke-width="1.3" stroke-linejoin="round" stroke-linecap="round"/>
<polyline points="462,551 900,551" fill="none" stroke="#2f6cc0" stroke-width="1.3" stroke-linejoin="round" stroke-linecap="round"/>
<polyline points="498,499 524,499 561,538 579,538 579,534" fill="none" stroke="#2f6cc0" stroke-width="1.3" stroke-linejoin="round" stroke-linecap="round"/>
<polyline points="798,294 798,531 823,531" fill="none" stroke="#2f72d0" stroke-width="1.8" stroke-linejoin="round" stroke-linecap="round"/>
<polyline points="760,465 798,465" fill="none" stroke="#2f6cc0" stroke-width="1.5" stroke-linejoin="round" stroke-linecap="round"/>
<polyline points="798,483 823,483" fill="none" stroke="#2f6cc0" stroke-width="1.5" stroke-linejoin="round" stroke-linecap="round"/>
<polyline points="975,481 986,481 986,420 948,420" fill="none" stroke="#2f72d0" stroke-width="1.8" stroke-linejoin="round" stroke-linecap="round"/>
<polyline points="986,481 986,535 975,535" fill="none" stroke="#2f72d0" stroke-width="1.8" stroke-linejoin="round" stroke-linecap="round"/>
<polyline points="986,420 1000,420 1000,465 1015,465 1018,488 1043,488" fill="none" stroke="#2f7ed6" stroke-width="2.2" stroke-linejoin="round" stroke-linecap="round"/>
<polyline points="583,571 903,571 903,540" fill="none" stroke="#2f6cc0" stroke-width="1.3" stroke-linejoin="round" stroke-linecap="round"/>
<polyline points="896,551 896,540" fill="none" stroke="#2f6cc0" stroke-width="1.3" stroke-linejoin="round" stroke-linecap="round"/>
<polyline points="625,466 798,466" fill="none" stroke="#2f6cc0" stroke-width="1.0" stroke-linejoin="round" stroke-linecap="round"/>
<g filter="url(#fSh)" fill="#262a3c" fill-opacity="0.55">
<rect x="500" y="288" width="318" height="14" rx="4"/>
<rect x="492" y="428" width="312" height="16" rx="4"/>
<rect x="812" y="292" width="142" height="14" rx="4"/>
<rect x="812" y="424" width="140" height="16" rx="4"/>
<rect x="1010" y="298" width="100" height="12" rx="4"/>
<rect x="1046" y="531" width="102" height="12" rx="4"/>
<rect x="1042" y="455" width="98" height="8" rx="4"/>
<rect x="1180" y="330" width="100" height="14" rx="4"/>
<rect x="1226" y="570" width="95" height="16" rx="4"/>
<rect x="822" y="536" width="158" height="14" rx="4"/>
<rect x="562" y="528" width="198" height="20" rx="4"/>
<rect x="432" y="536" width="64" height="14" rx="4"/>
<rect x="1290" y="320" width="20" height="10" rx="4"/>
<rect x="1318" y="548" width="26" height="12" rx="4"/>
</g>
<ellipse cx="286.3" cy="71.5" rx="27.5" ry="26" fill="#a4a8ac"/>
<ellipse cx="286.3" cy="67.3" rx="28" ry="26.5" fill="#d6d8da"/>
<rect x="283" y="41" width="7" height="53" fill="#e2e3e5" />
<rect x="262" y="57" width="49" height="1.2" fill="#c2c5c8" />
<rect x="266" y="60.5" width="19.5" height="12.5" fill="#6b6f75" />
<rect x="287.5" y="60.5" width="19.5" height="12.5" fill="#6b6f75" />
<rect x="268" y="62" width="16" height="9" fill="#4e5258" />
<rect x="289" y="62" width="16" height="9" fill="#4e5258" />
<rect x="268" y="70" width="16" height="2.6" fill="#2a62b8" />
<rect x="289" y="70" width="16" height="2.6" fill="#2a62b8" />
<rect x="277" y="63" width="3" height="7" fill="#2a62b8" />
<rect x="298" y="63" width="3" height="7" fill="#2a62b8" />
<rect x="269" y="53.5" width="5" height="4.5" fill="#b5b9bd" />
<rect x="278" y="54" width="4" height="4.5" fill="#2a62b8" />
<rect x="291" y="53.5" width="5" height="4.5" fill="#b5b9bd" />
<rect x="300" y="54" width="4" height="4.5" fill="#2a62b8" />
<rect x="258.5" y="63" width="6.5" height="8" fill="#e9eaeb" />
<rect x="308" y="63" width="6.5" height="8" fill="#e9eaeb" />
<rect x="266" y="75" width="40" height="2.5" fill="#c6c9cc" />
<rect x="252" y="73" width="7" height="2.8" fill="#2a62b8" />
<rect x="313.5" y="73" width="7" height="2.8" fill="#2a62b8" />
<rect x="268" y="82" width="2.2" height="1.8" fill="#3a72c8" />
<rect x="278" y="84" width="2.2" height="1.8" fill="#3a72c8" />
<rect x="294" y="82" width="2.2" height="1.8" fill="#3a72c8" />
<rect x="299" y="84" width="2.2" height="1.8" fill="#3a72c8" />
<rect x="275" y="87" width="2.2" height="1.8" fill="#3a72c8" />
<rect x="297" y="87" width="2.2" height="1.8" fill="#3a72c8" />
<rect x="286" y="88" width="2.2" height="1.8" fill="#3a72c8" />
<rect x="280" y="96" width="2.6" height="8" fill="#2a62b8" />
<rect x="290" y="96" width="2.6" height="8" fill="#2a62b8" />
<polygon points="498,281 812,281 813,294 499,294" fill="#b0b4b8" />
<rect x="498" y="281" width="314" height="2.5" fill="#e4e6e8" />
<rect x="499" y="286" width="313" height="1" fill="#c9ccd0" />
<rect x="499" y="291" width="313" height="1" fill="#8d9196" />
<rect x="497" y="233" width="311" height="48" fill="#e7e9eb" />
<rect x="509" y="239" width="45" height="37" fill="url(#pGrid)" />
<rect x="554" y="243" width="6" height="33" fill="#a4aaaf" />
<rect x="560" y="243" width="187" height="13" fill="url(#gWater)" />
<rect x="560" y="262" width="187" height="14" fill="url(#gWater)" />
<rect x="560" y="243" width="187" height="13" fill="url(#pSpk)" />
<rect x="560" y="262" width="187" height="14" fill="url(#pSpk)" />
<rect x="752" y="241" width="50" height="15" fill="url(#pGrate)" />
<rect x="752" y="262" width="50" height="15" fill="url(#pGrate)" />
<polygon points="491,375 805,375 806,378 492,378" fill="#b0b4b8" />
<rect x="491" y="375" width="314" height="2.5" fill="#e4e6e8" />
<rect x="492" y="380" width="313" height="1" fill="#c9ccd0" />
<rect x="492" y="375" width="313" height="1" fill="#8d9196" />
<rect x="490" y="330" width="311" height="45" fill="#e7e9eb" />
<rect x="501" y="334" width="48" height="37" fill="url(#pGrid)" />
<rect x="549" y="338" width="6" height="33" fill="#a4aaaf" />
<rect x="555" y="338" width="185" height="14" fill="url(#gWater)" />
<rect x="555" y="357" width="185" height="14" fill="url(#gWater)" />
<rect x="555" y="338" width="185" height="14" fill="url(#pSpk)" />
<rect x="555" y="357" width="185" height="14" fill="url(#pSpk)" />
<rect x="745" y="336" width="51" height="16" fill="url(#pGrate)" />
<rect x="745" y="357" width="51" height="15" fill="url(#pGrate)" />
<polygon points="488,421 803,421 804,433 489,433" fill="#b0b4b8" />
<rect x="488" y="421" width="315" height="2.5" fill="#e4e6e8" />
<rect x="489" y="426" width="314" height="1" fill="#c9ccd0" />
<rect x="489" y="430" width="314" height="1" fill="#8d9196" />
<rect x="487" y="376" width="312" height="45" fill="#e7e9eb" />
<rect x="495" y="382" width="49" height="38" fill="url(#pGrid)" />
<rect x="544" y="386" width="5" height="34" fill="#a4aaaf" />
<rect x="549" y="386" width="201" height="15" fill="url(#gWater)" />
<rect x="549" y="405" width="201" height="15" fill="url(#gWater)" />
<rect x="549" y="386" width="201" height="15" fill="url(#pSpk)" />
<rect x="549" y="405" width="201" height="15" fill="url(#pSpk)" />
<rect x="752" y="384" width="44" height="17" fill="url(#pGrate)" />
<rect x="752" y="405" width="44" height="16" fill="url(#pGrate)" />
<rect x="668" y="385" width="5" height="36" fill="#eef0f1" />
<rect x="496" y="236" width="10" height="10" fill="#eef0f1" />
<rect x="499" y="239" width="3" height="3" fill="#2a62b8" />
<rect x="493" y="250" width="4" height="33" fill="#2a5fae" />
<rect x="489" y="264" width="6" height="19" fill="#e3e5e7" />
<rect x="489" y="332" width="10" height="10" fill="#eef0f1" />
<rect x="492" y="335" width="3" height="3" fill="#2a62b8" />
<rect x="486" y="346" width="4" height="30" fill="#2a5fae" />
<rect x="482" y="360" width="6" height="16" fill="#e3e5e7" />
<rect x="486" y="378" width="10" height="10" fill="#eef0f1" />
<rect x="489" y="381" width="3" height="3" fill="#2a62b8" />
<rect x="483" y="392" width="4" height="31" fill="#2a5fae" />
<rect x="479" y="406" width="6" height="17" fill="#e3e5e7" />
<rect x="808" y="238" width="6" height="44" fill="#e6e8ea" />
<rect x="813" y="246" width="2" height="28" fill="#c0c4c8" />
<rect x="801" y="334" width="6" height="40" fill="#e6e8ea" />
<rect x="806" y="342" width="2" height="24" fill="#c0c4c8" />
<rect x="799" y="380" width="6" height="41" fill="#e6e8ea" />
<rect x="804" y="388" width="2" height="25" fill="#c0c4c8" />
<rect x="815" y="248" width="7" height="9" fill="#f0f1f2" />
<rect x="815" y="255" width="7" height="2" fill="#b8bcc0" />
<rect x="808" y="343" width="7" height="9" fill="#f0f1f2" />
<rect x="808" y="350" width="7" height="2" fill="#b8bcc0" />
<rect x="806" y="392" width="7" height="9" fill="#f0f1f2" />
<rect x="806" y="399" width="7" height="2" fill="#b8bcc0" />
<rect x="490" y="375" width="312" height="1.5" fill="#9ca1a6" />
<rect x="815" y="228" width="98" height="34" fill="#eceef0" />
<rect x="826" y="240" width="16" height="3" fill="#a9b0b6" />
<rect x="848" y="240" width="17" height="3" fill="#a9b0b6" />
<rect x="873" y="240" width="16" height="3" fill="#a9b0b6" />
<rect x="895" y="240" width="16" height="3" fill="#a9b0b6" />
<rect x="826" y="248" width="16" height="3" fill="#a9b0b6" />
<rect x="848" y="248" width="17" height="3" fill="#a9b0b6" />
<rect x="873" y="248" width="16" height="3" fill="#a9b0b6" />
<rect x="895" y="248" width="16" height="3" fill="#a9b0b6" />
<rect x="826" y="252" width="16" height="3" fill="#b8bfc5" />
<rect x="848" y="252" width="17" height="3" fill="#b8bfc5" />
<rect x="873" y="252" width="16" height="3" fill="#b8bfc5" />
<rect x="895" y="252" width="16" height="3" fill="#b8bfc5" />
<polygon points="820,262 909,262 909,284 820,284" fill="#50565e" />
<polygon points="821.2,263.2 907.8,263.2 907.8,282.8 821.2,282.8" fill="#788087" />
<polygon points="823.2,265.2 905.8,265.2 905.8,280.8 823.2,280.8" fill="#50565e" />
<polygon points="824.0,266.0 905.0,266.0 891.2,273.0 837.8,273.0" fill="#6b727a" />
<polygon points="824.0,280.0 905.0,280.0 891.2,273.0 837.8,273.0" fill="#71787f" />
<polygon points="824.0,266.0 837.8,273.0 824.0,280.0" fill="#636a72" />
<polygon points="905.0,266.0 891.2,273.0 905.0,280.0" fill="#7b828a" />
<rect x="822" y="284" width="86" height="8" fill="#b09a7e" />
<rect x="824.58" y="285.5" width="3.44" height="5" fill="#7a4a3c" />
<rect x="833.1800000000001" y="285.5" width="3.44" height="5" fill="#7a4a3c" />
<rect x="841.7800000000001" y="285.5" width="3.44" height="5" fill="#7a4a3c" />
<rect x="850.38" y="285.5" width="3.44" height="5" fill="#7a4a3c" />
<rect x="858.98" y="285.5" width="3.44" height="5" fill="#7a4a3c" />
<rect x="867.58" y="285.5" width="3.44" height="5" fill="#7a4a3c" />
<rect x="876.1800000000001" y="285.5" width="3.44" height="5" fill="#7a4a3c" />
<rect x="884.7800000000001" y="285.5" width="3.44" height="5" fill="#7a4a3c" />
<rect x="893.38" y="285.5" width="3.44" height="5" fill="#7a4a3c" />
<rect x="901.98" y="285.5" width="3.44" height="5" fill="#7a4a3c" />
<polygon points="914,221 950,221 950,293 914,293" fill="#50565e" />
<polygon points="915.2,222.2 948.8,222.2 948.8,291.8 915.2,291.8" fill="#8a9098" />
<polygon points="917.2,224.2 946.8,224.2 946.8,289.8 917.2,289.8" fill="#50565e" />
<polygon points="918.0,225.0 918.0,289.0 932.0,275.0 932.0,239.0" fill="#6d747c" />
<polygon points="946.0,225.0 946.0,289.0 932.0,275.0 932.0,239.0" fill="#8c939b" />
<polygon points="918.0,225.0 946.0,225.0 932.0,239.0" fill="#7a8189" />
<polygon points="918.0,289.0 946.0,289.0 932.0,275.0" fill="#828991" />
<rect x="920" y="293" width="28" height="7" fill="#b09a7e" />
<rect x="922.8" y="294.5" width="3.733333333333334" height="4" fill="#7a4a3c" />
<rect x="932.1333333333333" y="294.5" width="3.733333333333334" height="4" fill="#7a4a3c" />
<rect x="941.4666666666666" y="294.5" width="3.733333333333334" height="4" fill="#7a4a3c" />
<rect x="807" y="325" width="100" height="33" fill="#eceef0" />
<rect x="818" y="338" width="16" height="3" fill="#a9b0b6" />
<rect x="840" y="338" width="17" height="3" fill="#a9b0b6" />
<rect x="865" y="338" width="16" height="3" fill="#a9b0b6" />
<rect x="887" y="338" width="16" height="3" fill="#a9b0b6" />
<rect x="818" y="345" width="16" height="3" fill="#a9b0b6" />
<rect x="840" y="345" width="17" height="3" fill="#a9b0b6" />
<rect x="865" y="345" width="16" height="3" fill="#a9b0b6" />
<rect x="887" y="345" width="16" height="3" fill="#a9b0b6" />
<rect x="818" y="349" width="16" height="3" fill="#b8bfc5" />
<rect x="840" y="349" width="17" height="3" fill="#b8bfc5" />
<rect x="865" y="349" width="16" height="3" fill="#b8bfc5" />
<rect x="887" y="349" width="16" height="3" fill="#b8bfc5" />
<polygon points="812,357 901,357 901,381 812,381" fill="#50565e" />
<polygon points="813.2,358.2 899.8,358.2 899.8,379.8 813.2,379.8" fill="#788087" />
<polygon points="815.2,360.2 897.8,360.2 897.8,377.8 815.2,377.8" fill="#50565e" />
<polygon points="816.0,361.0 897.0,361.0 883.2,369.0 829.8,369.0" fill="#6b727a" />
<polygon points="816.0,377.0 897.0,377.0 883.2,369.0 829.8,369.0" fill="#71787f" />
<polygon points="816.0,361.0 829.8,369.0 816.0,377.0" fill="#636a72" />
<polygon points="897.0,361.0 883.2,369.0 897.0,377.0" fill="#7b828a" />
<rect x="814" y="381" width="86" height="5" fill="#b09a7e" />
<rect x="816.58" y="382.5" width="3.44" height="2" fill="#7a4a3c" />
<rect x="825.1800000000001" y="382.5" width="3.44" height="2" fill="#7a4a3c" />
<rect x="833.7800000000001" y="382.5" width="3.44" height="2" fill="#7a4a3c" />
<rect x="842.38" y="382.5" width="3.44" height="2" fill="#7a4a3c" />
<rect x="850.98" y="382.5" width="3.44" height="2" fill="#7a4a3c" />
<rect x="859.58" y="382.5" width="3.44" height="2" fill="#7a4a3c" />
<rect x="868.1800000000001" y="382.5" width="3.44" height="2" fill="#7a4a3c" />
<rect x="876.7800000000001" y="382.5" width="3.44" height="2" fill="#7a4a3c" />
<rect x="885.38" y="382.5" width="3.44" height="2" fill="#7a4a3c" />
<rect x="893.98" y="382.5" width="3.44" height="2" fill="#7a4a3c" />
<rect x="807" y="386" width="100" height="39" fill="#eceef0" />
<rect x="818" y="390" width="16" height="3" fill="#a9b0b6" />
<rect x="840" y="390" width="17" height="3" fill="#a9b0b6" />
<rect x="865" y="390" width="16" height="3" fill="#a9b0b6" />
<rect x="887" y="390" width="16" height="3" fill="#a9b0b6" />
<rect x="818" y="398" width="16" height="4" fill="#b1b8be" />
<rect x="840" y="398" width="17" height="4" fill="#b1b8be" />
<rect x="865" y="398" width="16" height="4" fill="#b1b8be" />
<rect x="887" y="398" width="16" height="4" fill="#b1b8be" />
<rect x="818" y="408" width="16" height="3" fill="#b8bfc5" />
<rect x="840" y="408" width="17" height="3" fill="#b8bfc5" />
<rect x="865" y="408" width="16" height="3" fill="#b8bfc5" />
<rect x="887" y="408" width="16" height="3" fill="#b8bfc5" />
<rect x="810" y="425" width="97" height="5" fill="#b5b9bd" />
<polygon points="909,316 946,316 946,421 909,421" fill="#50565e" />
<polygon points="910.2,317.2 944.8,317.2 944.8,419.8 910.2,419.8" fill="#8a9098" />
<polygon points="912.2,319.2 942.8,319.2 942.8,417.8 912.2,417.8" fill="#50565e" />
<polygon points="913.0,320.0 913.0,417.0 927.5,402.5 927.5,334.5" fill="#6d747c" />
<polygon points="942.0,320.0 942.0,417.0 927.5,402.5 927.5,334.5" fill="#8c939b" />
<polygon points="913.0,320.0 942.0,320.0 927.5,334.5" fill="#7a8189" />
<polygon points="913.0,417.0 942.0,417.0 927.5,402.5" fill="#828991" />
<rect x="912" y="421" width="32" height="4" fill="#b09a7e" />
<rect x="915.2" y="422.5" width="4.266666666666667" height="1" fill="#7a4a3c" />
<rect x="925.8666666666667" y="422.5" width="4.266666666666667" height="1" fill="#7a4a3c" />
<rect x="936.5333333333334" y="422.5" width="4.266666666666667" height="1" fill="#7a4a3c" />
<rect x="945" y="366" width="6" height="8" fill="#f0f0f0" />
<polygon points="1008,300 1108,300 1108,303 1008,303" fill="#a9adb1" />
<polygon points="1005,244 1105,244 1108,300 1008,300" fill="#cfd4d8" />
<polygon points="1007,246 1103,246 1106,298 1010,298" fill="url(#gPool)" />
<polygon points="1007,246 1103,246 1106,298 1010,298" fill="url(#pSpk)" />
<line x1="1017.6666666666666" y1="246.0" x2="1020.6666666666666" y2="298.0" stroke="#d3dadf" stroke-width="1" />
<line x1="1028.3333333333333" y1="246.0" x2="1031.3333333333333" y2="298.0" stroke="#d3dadf" stroke-width="1" />
<line x1="1039.0" y1="246.0" x2="1042.0" y2="298.0" stroke="#d3dadf" stroke-width="1" />
<line x1="1049.6666666666667" y1="246.0" x2="1052.6666666666667" y2="298.0" stroke="#d3dadf" stroke-width="1" />
<line x1="1060.3333333333333" y1="246.0" x2="1063.3333333333333" y2="298.0" stroke="#d3dadf" stroke-width="1" />
<line x1="1071.0" y1="246.0" x2="1074.0" y2="298.0" stroke="#d3dadf" stroke-width="1" />
<line x1="1081.6666666666667" y1="246.0" x2="1084.6666666666667" y2="298.0" stroke="#d3dadf" stroke-width="1" />
<line x1="1092.3333333333333" y1="246.0" x2="1095.3333333333333" y2="298.0" stroke="#d3dadf" stroke-width="1" />
<line x1="1008.44" y1="270.96" x2="1104.44" y2="270.96" stroke="#d3dadf" stroke-width="1.5" />
<polygon points="1044,456 1138,456 1138,459 1044,459" fill="#a9adb1" />
<polygon points="1038,404 1136,404 1138,456 1044,456" fill="#cfd4d8" />
<polygon points="1040,406 1134,406 1136,454 1046,454" fill="url(#gPool)" />
<polygon points="1040,406 1134,406 1136,454 1046,454" fill="url(#pSpk)" />
<line x1="1050.4444444444443" y1="406.0" x2="1056.0" y2="454.0" stroke="#d3dadf" stroke-width="1" />
<line x1="1060.888888888889" y1="406.0" x2="1066.0" y2="454.0" stroke="#d3dadf" stroke-width="1" />
<line x1="1071.3333333333333" y1="406.0" x2="1076.0" y2="454.0" stroke="#d3dadf" stroke-width="1" />
<line x1="1081.7777777777778" y1="406.0" x2="1086.0" y2="454.0" stroke="#d3dadf" stroke-width="1" />
<line x1="1092.2222222222222" y1="406.0" x2="1096.0" y2="454.0" stroke="#d3dadf" stroke-width="1" />
<line x1="1102.6666666666667" y1="406.0" x2="1106.0" y2="454.0" stroke="#d3dadf" stroke-width="1" />
<line x1="1113.111111111111" y1="406.0" x2="1116.0" y2="454.0" stroke="#d3dadf" stroke-width="1" />
<line x1="1123.5555555555557" y1="406.0" x2="1126.0" y2="454.0" stroke="#d3dadf" stroke-width="1" />
<line x1="1042.88" y1="429.04" x2="1134.96" y2="429.04" stroke="#d3dadf" stroke-width="1.5" />
<polygon points="1046,533 1146,533 1146,536 1046,536" fill="#a9adb1" />
<polygon points="1043,477 1141,477 1146,533 1046,533" fill="#cfd4d8" />
<polygon points="1045,479 1139,479 1144,531 1048,531" fill="url(#gPool)" />
<polygon points="1045,479 1139,479 1144,531 1048,531" fill="url(#pSpk)" />
<line x1="1055.4444444444443" y1="479.0" x2="1058.6666666666667" y2="531.0" stroke="#d3dadf" stroke-width="1" />
<line x1="1065.888888888889" y1="479.0" x2="1069.3333333333333" y2="531.0" stroke="#d3dadf" stroke-width="1" />
<line x1="1076.3333333333333" y1="479.0" x2="1080.0" y2="531.0" stroke="#d3dadf" stroke-width="1" />
<line x1="1086.7777777777778" y1="479.0" x2="1090.6666666666667" y2="531.0" stroke="#d3dadf" stroke-width="1" />
<line x1="1097.2222222222222" y1="479.0" x2="1101.3333333333333" y2="531.0" stroke="#d3dadf" stroke-width="1" />
<line x1="1107.6666666666667" y1="479.0" x2="1112.0" y2="531.0" stroke="#d3dadf" stroke-width="1" />
<line x1="1118.111111111111" y1="479.0" x2="1122.6666666666667" y2="531.0" stroke="#d3dadf" stroke-width="1" />
<line x1="1128.5555555555557" y1="479.0" x2="1133.3333333333333" y2="531.0" stroke="#d3dadf" stroke-width="1" />
<line x1="1046.44" y1="503.96" x2="1141.4" y2="503.96" stroke="#d3dadf" stroke-width="1.5" />
<polyline points="1150,265 1196,265" fill="none" stroke="#2f7ed6" stroke-width="3" stroke-linejoin="round" />
<polyline points="1168,264 1169,290 1175,296 1197,296" fill="none" stroke="#2f7ed6" stroke-width="4" stroke-linejoin="round" />
<polygon points="1176,181 1256,181 1259,220 1180,220" fill="#50565e" />
<polygon points="1177.33,182.2 1254.89,182.2 1257.71,218.8 1181.07,218.8" fill="#8a9098" />
<polygon points="1179.55,184.2 1253.03,184.2 1255.57,216.8 1182.85,216.8" fill="#50565e" />
<polygon points="1180.43,185.0 1252.29,185.0 1238.0,200.5 1197.5,200.5" fill="#7a8189" />
<polygon points="1183.57,216.0 1254.71,216.0 1238.0,200.5 1197.5,200.5" fill="#828991" />
<polygon points="1180.43,185.0 1197.5,200.5 1183.57,216.0" fill="#6d747c" />
<polygon points="1252.29,185.0 1238.0,200.5 1254.71,216.0" fill="#8c939b" />
<rect x="1181" y="220" width="77" height="8" fill="#b09a7e" />
<rect x="1184.3" y="221.5" width="4.4" height="5" fill="#7a4a3c" />
<rect x="1195.3" y="221.5" width="4.4" height="5" fill="#7a4a3c" />
<rect x="1206.3" y="221.5" width="4.4" height="5" fill="#7a4a3c" />
<rect x="1217.3" y="221.5" width="4.4" height="5" fill="#7a4a3c" />
<rect x="1228.3" y="221.5" width="4.4" height="5" fill="#7a4a3c" />
<rect x="1239.3" y="221.5" width="4.4" height="5" fill="#7a4a3c" />
<rect x="1250.3" y="221.5" width="4.4" height="5" fill="#7a4a3c" />
<polygon points="1185,234 1189,229 1200,333 1196,337" fill="#bfc1c4" />
<polygon points="1189,229 1240,229 1252,333 1200,333" fill="#d6d8da" />
<polygon points="1226,213 1263,213 1277,324 1236,324" fill="#50565e" />
<polygon points="1227.25,214.2 1262.01,214.2 1275.59,322.8 1237.15,322.8" fill="#8a9098" />
<polygon points="1229.33,216.2 1260.36,216.2 1273.24,320.8 1239.07,320.8" fill="#50565e" />
<polygon points="1230.17,217.0 1239.83,320.0 1254.39,304.5 1246.61,232.5" fill="#6d747c" />
<polygon points="1259.69,217.0 1272.31,320.0 1254.39,304.5 1246.61,232.5" fill="#8c939b" />
<polygon points="1230.17,217.0 1259.69,217.0 1246.61,232.5" fill="#7a8189" />
<polygon points="1239.83,320.0 1272.31,320.0 1254.39,304.5" fill="#828991" />
<polygon points="1237,324 1277,324 1276,336 1239,336" fill="#b09a7e" />
<rect x="1250" y="330" width="10" height="3" fill="#2f6ab8" />
<rect x="1272" y="234" width="10" height="10" fill="#e4e5e7" />
<rect x="1272" y="241" width="10" height="3" fill="#b2b5b8" />
<rect x="1287" y="234" width="10" height="10" fill="#e4e5e7" />
<rect x="1287" y="241" width="10" height="3" fill="#b2b5b8" />
<rect x="1276" y="274" width="10" height="10" fill="#e4e5e7" />
<rect x="1276" y="281" width="10" height="3" fill="#b2b5b8" />
<rect x="1291" y="274" width="10" height="10" fill="#e4e5e7" />
<rect x="1291" y="281" width="10" height="3" fill="#b2b5b8" />
<rect x="1277" y="286" width="10" height="10" fill="#e4e5e7" />
<rect x="1277" y="293" width="10" height="3" fill="#b2b5b8" />
<rect x="1292" y="286" width="10" height="10" fill="#e4e5e7" />
<rect x="1292" y="293" width="10" height="3" fill="#b2b5b8" />
<rect x="1279" y="298" width="10" height="10" fill="#e4e5e7" />
<rect x="1279" y="305" width="10" height="3" fill="#b2b5b8" />
<rect x="1294" y="298" width="10" height="10" fill="#e4e5e7" />
<rect x="1294" y="305" width="10" height="3" fill="#b2b5b8" />
<rect x="1281" y="310" width="10" height="10" fill="#e4e5e7" />
<rect x="1281" y="317" width="10" height="3" fill="#b2b5b8" />
<rect x="1296" y="310" width="10" height="10" fill="#e4e5e7" />
<rect x="1296" y="317" width="10" height="3" fill="#b2b5b8" />
<rect x="1300" y="279" width="10" height="10" fill="#e4e5e7" />
<rect x="1300" y="286" width="10" height="3" fill="#b2b5b8" />
<polyline points="1303,268 1351,268" fill="none" stroke="#2f7ed6" stroke-width="3" stroke-linejoin="round" />
<polyline points="1302,285 1308,320" fill="none" stroke="#2f7ed6" stroke-width="3" stroke-linejoin="round" />
<rect x="1313" y="262" width="8" height="10" fill="#e6e6e6" />
<rect x="1313" y="270" width="8" height="2" fill="#b0b0b0" />
<polyline points="1138,450 1201,450" fill="none" stroke="#2f7ed6" stroke-width="3" stroke-linejoin="round" />
<polyline points="1141,482 1201,482" fill="none" stroke="#2f7ed6" stroke-width="3" stroke-linejoin="round" />
<polyline points="1201,447 1204,522 1210,528 1234,528" fill="none" stroke="#2f7ed6" stroke-width="4" stroke-linejoin="round" />
<polyline points="1202,497 1232,497" fill="none" stroke="#2f7ed6" stroke-width="3.5" stroke-linejoin="round" />
<rect x="1146" y="445" width="8" height="10" fill="#e6e6e6" />
<rect x="1146" y="453" width="8" height="2" fill="#b0b0b0" />
<rect x="1149" y="477" width="8" height="10" fill="#e6e6e6" />
<rect x="1149" y="485" width="8" height="2" fill="#b0b0b0" />
<polygon points="1215,414 1295,414 1298,455 1219,455" fill="#50565e" />
<polygon points="1216.32,415.2 1293.88,415.2 1296.72,453.8 1220.08,453.8" fill="#8a9098" />
<polygon points="1218.53,417.2 1292.02,417.2 1294.58,451.8 1221.87,451.8" fill="#50565e" />
<polygon points="1219.41,418.0 1291.27,418.0 1276.0,434.5 1237.5,434.5" fill="#7a8189" />
<polygon points="1222.59,451.0 1293.73,451.0 1276.0,434.5 1237.5,434.5" fill="#828991" />
<polygon points="1219.41,418.0 1237.5,434.5 1222.59,451.0" fill="#6d747c" />
<polygon points="1291.27,418.0 1276.0,434.5 1293.73,451.0" fill="#8c939b" />
<rect x="1220" y="455" width="77" height="6" fill="#b09a7e" />
<rect x="1223.3" y="456.5" width="4.4" height="3" fill="#7a4a3c" />
<rect x="1234.3" y="456.5" width="4.4" height="3" fill="#7a4a3c" />
<rect x="1245.3" y="456.5" width="4.4" height="3" fill="#7a4a3c" />
<rect x="1256.3" y="456.5" width="4.4" height="3" fill="#7a4a3c" />
<rect x="1267.3" y="456.5" width="4.4" height="3" fill="#7a4a3c" />
<rect x="1278.3" y="456.5" width="4.4" height="3" fill="#7a4a3c" />
<rect x="1289.3" y="456.5" width="4.4" height="3" fill="#7a4a3c" />
<polygon points="1220,472 1224,468 1234,565 1229,569" fill="#c4c6c9" />
<polygon points="1224,468 1268,468 1280,565 1234,565" fill="#d8dadc" />
<rect x="1229" y="565" width="46" height="6" fill="#c9cbce" />
<polygon points="1263,446 1301,446 1317,560 1274,560" fill="#50565e" />
<polygon points="1264.24,447.2 1300.04,447.2 1315.56,558.8 1275.16,558.8" fill="#8a9098" />
<polygon points="1266.32,449.2 1298.44,449.2 1313.16,556.8 1277.08,556.8" fill="#50565e" />
<polygon points="1267.16,450.0 1277.84,556.0 1293.1,539.75 1284.4,466.25" fill="#6d747c" />
<polygon points="1297.79,450.0 1312.21,556.0 1293.1,539.75 1284.4,466.25" fill="#8c939b" />
<polygon points="1267.16,450.0 1297.79,450.0 1284.4,466.25" fill="#7a8189" />
<polygon points="1277.84,556.0 1312.21,556.0 1293.1,539.75" fill="#828991" />
<polygon points="1275,560 1316,560 1315,576 1277,576" fill="#b09a7e" />
<rect x="1288" y="568" width="12" height="3" fill="#2f6ab8" />
<rect x="1277" y="576" width="38" height="6" fill="#d9d9d9" />
<rect x="1325" y="468" width="10" height="10" fill="#e4e5e7" />
<rect x="1325" y="475" width="10" height="3" fill="#b2b5b8" />
<rect x="1326" y="481" width="10" height="10" fill="#e4e5e7" />
<rect x="1326" y="488" width="10" height="3" fill="#b2b5b8" />
<rect x="1310" y="496" width="10" height="10" fill="#e4e5e7" />
<rect x="1310" y="503" width="10" height="3" fill="#b2b5b8" />
<rect x="1325" y="496" width="10" height="10" fill="#e4e5e7" />
<rect x="1325" y="503" width="10" height="3" fill="#b2b5b8" />
<rect x="1312" y="511" width="10" height="10" fill="#e4e5e7" />
<rect x="1312" y="518" width="10" height="3" fill="#b2b5b8" />
<rect x="1327" y="511" width="10" height="10" fill="#e4e5e7" />
<rect x="1327" y="518" width="10" height="3" fill="#b2b5b8" />
<rect x="1314" y="526" width="10" height="10" fill="#e4e5e7" />
<rect x="1314" y="533" width="10" height="3" fill="#b2b5b8" />
<rect x="1329" y="526" width="10" height="10" fill="#e4e5e7" />
<rect x="1329" y="533" width="10" height="3" fill="#b2b5b8" />
<rect x="1316" y="541" width="10" height="10" fill="#e4e5e7" />
<rect x="1316" y="548" width="10" height="3" fill="#b2b5b8" />
<rect x="1331" y="541" width="10" height="10" fill="#e4e5e7" />
<rect x="1331" y="548" width="10" height="3" fill="#b2b5b8" />
<rect x="1338" y="512" width="10" height="10" fill="#e4e5e7" />
<rect x="1338" y="519" width="10" height="3" fill="#b2b5b8" />
<polyline points="1331,470 1343,555" fill="none" stroke="#2f7ed6" stroke-width="3.5" stroke-linejoin="round" />
<polyline points="1340,484 1378,484" fill="none" stroke="#2f7ed6" stroke-width="3" stroke-linejoin="round" />
<polyline points="1340,500 1378,500" fill="none" stroke="#2f7ed6" stroke-width="3" stroke-linejoin="round" />
<polyline points="1340,525 1378,525" fill="none" stroke="#2f7ed6" stroke-width="3" stroke-linejoin="round" />
<rect x="1350" y="479" width="8" height="10" fill="#e6e6e6" />
<rect x="1350" y="487" width="8" height="2" fill="#b0b0b0" />
<rect x="1352" y="495" width="8" height="10" fill="#e6e6e6" />
<rect x="1352" y="503" width="8" height="2" fill="#b0b0b0" />
<rect x="1357" y="520" width="8" height="10" fill="#e6e6e6" />
<rect x="1357" y="528" width="8" height="2" fill="#b0b0b0" />
<polyline points="950,256 1005,256" fill="none" stroke="#2f7ed6" stroke-width="2.5" stroke-linejoin="round" />
<rect x="991" y="251" width="8" height="10" fill="#e6e6e6" />
<rect x="991" y="259" width="8" height="2" fill="#b0b0b0" />
<polyline points="1106,265 1150,265" fill="none" stroke="#2f7ed6" stroke-width="3" stroke-linejoin="round" />
<rect x="1114" y="259" width="8" height="10" fill="#e6e6e6" />
<rect x="1114" y="267" width="8" height="2" fill="#b0b0b0" />
<ellipse cx="470" cy="476.5" rx="30.5" ry="21.6" fill="#9da1a6"/>
<ellipse cx="469" cy="472.5" rx="30.5" ry="21.6" fill="#dcdee0"/>
<ellipse cx="469" cy="471.5" rx="25" ry="18.0" fill="#b9bcc0"/>
<ellipse cx="468" cy="471.5" rx="23" ry="16.5" fill="#3b5f6d"/>
<ellipse cx="468" cy="471.5" rx="23" ry="16.5" fill="url(#pSpk2)"/>
<ellipse cx="463.3" cy="525" rx="32.3" ry="26.7" fill="#9da1a6"/>
<ellipse cx="462.3" cy="521" rx="32.3" ry="26.7" fill="#dcdee0"/>
<ellipse cx="463" cy="519.5" rx="26.5" ry="21.5" fill="#b9bcc0"/>
<ellipse cx="462" cy="519.5" rx="24.5" ry="20" fill="#3b5f6d"/>
<ellipse cx="462" cy="519.5" rx="24.5" ry="20" fill="url(#pSpk2)"/>
<line x1="474" y1="455" x2="470" y2="493" stroke="#e6e8ea" stroke-width="4" />
<line x1="469" y1="497" x2="458" y2="543" stroke="#e6e8ea" stroke-width="4.5" />
<circle cx="470" cy="466" r="3.2" fill="#eef0f2"/><circle cx="461" cy="518" r="3.4" fill="#eef0f2"/>
<circle cx="470" cy="466" r="1.4" fill="#2f7ed6"/><circle cx="461" cy="518" r="1.5" fill="#2f7ed6"/>
<circle cx="431" cy="475" r="2" fill="none" stroke="#c8cbce" stroke-width="1.2"/>
<circle cx="427" cy="517" r="2" fill="none" stroke="#c8cbce" stroke-width="1.2"/>
<circle cx="500" cy="491" r="2" fill="none" stroke="#c8cbce" stroke-width="1.2"/>
<circle cx="498" cy="500" r="2" fill="none" stroke="#c8cbce" stroke-width="1.2"/>
<polygon points="566,471 632,471 631,519 561,519" fill="#50565e" />
<polygon points="567.04,472.2 630.81,472.2 629.79,517.8 562.36,517.8" fill="#8a9098" />
<polygon points="568.79,474.2 628.81,474.2 627.79,515.8 564.61,515.8" fill="#50565e" />
<polygon points="569.49,475.0 628.01,475.0 607.5,495.0 587.5,495.0" fill="#7a8189" />
<polygon points="565.51,515.0 626.99,515.0 607.5,495.0 587.5,495.0" fill="#828991" />
<polygon points="569.49,475.0 587.5,495.0 565.51,515.0" fill="#6d747c" />
<polygon points="628.01,475.0 607.5,495.0 626.99,515.0" fill="#8c939b" />
<rect x="563" y="519" width="67" height="8" fill="#b09a7e" />
<rect x="566" y="523.5" width="9" height="3" fill="#2f6ab8" />
<rect x="577" y="523.5" width="9" height="3" fill="#2f6ab8" />
<rect x="588" y="523.5" width="9" height="3" fill="#2f6ab8" />
<rect x="599" y="523.5" width="9" height="3" fill="#2f6ab8" />
<rect x="613" y="520" width="5" height="5" fill="#6f7378" />
<rect x="621" y="520" width="5" height="5" fill="#6f7378" />
<rect x="569" y="527" width="54" height="6" fill="#dadbdd" />
<polygon points="636,472 755,472 754,519 633,519" fill="#50565e" />
<polygon points="637.11,473.2 753.78,473.2 752.82,517.8 634.29,517.8" fill="#8a9098" />
<polygon points="638.97,475.2 751.75,475.2 750.85,515.8 636.43,515.8" fill="#50565e" />
<polygon points="639.72,476.0 750.94,476.0 730.5,495.5 658.5,495.5" fill="#7a8189" />
<polygon points="637.28,515.0 750.06,515.0 730.5,495.5 658.5,495.5" fill="#828991" />
<polygon points="639.72,476.0 658.5,495.5 637.28,515.0" fill="#6d747c" />
<polygon points="750.94,476.0 730.5,495.5 750.06,515.0" fill="#8c939b" />
<rect x="634" y="519" width="119" height="8" fill="#b09a7e" />
<rect x="637.9666666666667" y="520.5" width="5.288888888888889" height="5" fill="#7a4a3c" />
<rect x="651.1888888888889" y="520.5" width="5.288888888888889" height="5" fill="#7a4a3c" />
<rect x="664.4111111111112" y="520.5" width="5.288888888888889" height="5" fill="#7a4a3c" />
<rect x="677.6333333333333" y="520.5" width="5.288888888888889" height="5" fill="#7a4a3c" />
<rect x="690.8555555555556" y="520.5" width="5.288888888888889" height="5" fill="#7a4a3c" />
<rect x="704.0777777777778" y="520.5" width="5.288888888888889" height="5" fill="#7a4a3c" />
<rect x="717.3000000000001" y="520.5" width="5.288888888888889" height="5" fill="#7a4a3c" />
<rect x="730.5222222222222" y="520.5" width="5.288888888888889" height="5" fill="#7a4a3c" />
<rect x="743.7444444444445" y="520.5" width="5.288888888888889" height="5" fill="#7a4a3c" />
<rect x="646" y="527" width="6" height="6" fill="#dadbdd" />
<rect x="665" y="527" width="6" height="6" fill="#dadbdd" />
<rect x="690" y="527" width="6" height="6" fill="#dadbdd" />
<rect x="712" y="527" width="6" height="6" fill="#dadbdd" />
<rect x="745" y="527" width="6" height="6" fill="#dadbdd" />
<rect x="822" y="466" width="73" height="74" fill="#d2d6d9" />
<rect x="825" y="469" width="67" height="62" fill="url(#gPool)" />
<rect x="825" y="469" width="67" height="62" fill="url(#pSpk)" />
<line x1="836.1666666666666" y1="469" x2="836.1666666666666" y2="531" stroke="#d3dadf" stroke-width="1.2" />
<line x1="847.3333333333334" y1="469" x2="847.3333333333334" y2="531" stroke="#d3dadf" stroke-width="1.2" />
<line x1="858.5" y1="469" x2="858.5" y2="531" stroke="#d3dadf" stroke-width="1.2" />
<line x1="869.6666666666666" y1="469" x2="869.6666666666666" y2="531" stroke="#d3dadf" stroke-width="1.2" />
<line x1="880.8333333333334" y1="469" x2="880.8333333333334" y2="531" stroke="#d3dadf" stroke-width="1.2" />
<line x1="825" y1="500.0" x2="892" y2="500.0" stroke="#d3dadf" stroke-width="1.5" />
<rect x="822" y="531" width="73" height="9" fill="#dfe2e4" />
<rect x="822" y="538" width="73" height="2" fill="#b9bdc1" />
<rect x="903" y="466" width="74" height="74" fill="#d2d6d9" />
<rect x="906" y="469" width="68" height="62" fill="url(#gPool)" />
<rect x="906" y="469" width="68" height="62" fill="url(#pSpk)" />
<line x1="917.3333333333334" y1="469" x2="917.3333333333334" y2="531" stroke="#d3dadf" stroke-width="1.2" />
<line x1="928.6666666666666" y1="469" x2="928.6666666666666" y2="531" stroke="#d3dadf" stroke-width="1.2" />
<line x1="940.0" y1="469" x2="940.0" y2="531" stroke="#d3dadf" stroke-width="1.2" />
<line x1="951.3333333333334" y1="469" x2="951.3333333333334" y2="531" stroke="#d3dadf" stroke-width="1.2" />
<line x1="962.6666666666666" y1="469" x2="962.6666666666666" y2="531" stroke="#d3dadf" stroke-width="1.2" />
<line x1="906" y1="500.0" x2="974" y2="500.0" stroke="#d3dadf" stroke-width="1.5" />
<rect x="903" y="531" width="74" height="9" fill="#dfe2e4" />
<rect x="903" y="538" width="74" height="2" fill="#b9bdc1" />
<rect x="884" y="486" width="30" height="25" fill="#e4e6e8" />
<line x1="899" y1="486" x2="899" y2="511" stroke="#c3c7cb" stroke-width="1" />
<line x1="884" y1="498" x2="914" y2="498" stroke="#c3c7cb" stroke-width="1" />
<polyline points="396,216 368,378 487,378" fill="none" stroke="#2f7ed6" stroke-width="3" stroke-linejoin="round" />
<polyline points="392,250 497,250" fill="none" stroke="#2f7ed6" stroke-width="3" stroke-linejoin="round" /></svg>
<div class="abs" style="left:194px;top:34px;width:1380px;height:3px;background:linear-gradient(180deg,rgba(0,0,0,0.35),rgba(0,0,0,0))"></div>
<div class="abs" style="left:194px;top:34px;width:5px;height:674px;background:linear-gradient(90deg,rgba(0,0,0,0.12),rgba(0,0,0,0))"></div>
<div class="tb" style="left:276px;top:125px"><div class="r" style="height:18px"><span class="l" style="width:72px;height:18px;line-height:18px">取水液位</span><span class="v" style="width:72px;height:18px;line-height:19px">0 m</span></div><div class="r" style="height:18px"><span class="l" style="width:72px;height:18px;line-height:18px;font-size:11.5px">取水总管压力</span><span class="v" style="width:72px;height:18px;line-height:19px">2.45 mPa</span></div><div class="r" style="height:18px"><span class="l" style="width:72px;height:18px;line-height:18px">原水浊度</span><span class="v" style="width:72px;height:18px;line-height:19px">8.7 NTU</span></div><div class="r" style="height:18px"><span class="l" style="width:72px;height:18px;line-height:18px">原水PH值</span><span class="v" style="width:72px;height:18px;line-height:19px">7.68 PH</span></div><div class="r" style="height:18px"><span class="l" style="width:72px;height:18px;line-height:18px">原水溶解氧</span><span class="v" style="width:72px;height:18px;line-height:19px">7.16 mg/L</span></div></div>
<div class="tb" style="left:420px;top:127px"><div class="r" style="height:18px"><span class="l" style="width:72px;height:18px;line-height:18px">原水导电率</span><span class="v" style="width:72px;height:18px;line-height:19px">340.17 us/cm</span></div><div class="r" style="height:18px"><span class="l" style="width:72px;height:18px;line-height:18px">原水氨氮</span><span class="v" style="width:72px;height:18px;line-height:19px">0 mg/L</span></div></div>
<div class="tb" style="left:1242px;top:66px"><div class="r" style="height:18px"><span class="l" style="width:111px;height:18px;line-height:18px">3期出厂水压力</span><span class="v" style="width:111px;height:18px;line-height:19px">0.36 mPa</span></div><div class="r" style="height:18px"><span class="l" style="width:111px;height:18px;line-height:18px">3期出厂水浊度</span><span class="v" style="width:111px;height:18px;line-height:19px">0.08 NTU</span></div><div class="r" style="height:18px"><span class="l" style="width:111px;height:18px;line-height:18px">3期出厂水PH</span><span class="v" style="width:111px;height:18px;line-height:19px">7.58 PH</span></div><div class="r" style="height:18px"><span class="l" style="width:111px;height:18px;line-height:18px">3期出厂水余氯</span><span class="v" style="width:111px;height:18px;line-height:19px">0.41 mg/L</span></div><div class="r" style="height:18px"><span class="l" style="width:111px;height:18px;line-height:18px">3期出厂水瞬时流量</span><span class="v" style="width:111px;height:18px;line-height:19px">1275 ㎥/h</span></div><div class="r" style="height:18px"><span class="l" style="width:111px;height:18px;line-height:18px">3期出厂水累计流量</span><span class="v" style="width:111px;height:18px;line-height:19px">91914640 m³</span></div></div>
<div class="tb" style="left:1092px;top:360px"><div class="r" style="height:18px"><span class="l" style="width:90px;height:18px;line-height:18px">1#清水池水位</span><span class="v" style="width:91px;height:18px;line-height:19px">2.53 m</span></div><div class="r" style="height:18px"><span class="l" style="width:90px;height:18px;line-height:18px">2#清水池水位</span><span class="v" style="width:91px;height:18px;line-height:19px">2.74 m</span></div><div class="r" style="height:18px"><span class="l" style="width:90px;height:18px;line-height:18px">3#1清水池水位</span><span class="v" style="width:91px;height:18px;line-height:19px">3.01 m</span></div><div class="r" style="height:18px"><span class="l" style="width:90px;height:18px;line-height:18px">3#2清水池液位</span><span class="v" style="width:91px;height:18px;line-height:19px">2.48 m</span></div></div>
<div class="tb" style="left:1377px;top:474px"><div class="r" style="height:19px"><span class="l" style="width:72px;height:19px;line-height:19px">1#瞬时流量</span><span class="v" style="width:73px;height:19px;line-height:20px">4383.88 m³/h</span></div><div class="r" style="height:19px"><span class="l" style="width:72px;height:19px;line-height:19px">2#瞬时流量</span><span class="v" style="width:73px;height:19px;line-height:20px">m³/h</span></div><div class="r" style="height:19px"><span class="l" style="width:72px;height:19px;line-height:19px">3#瞬时流量</span><span class="v" style="width:73px;height:19px;line-height:20px">m³/h</span></div></div>
<div class="tb" style="left:1218px;top:585px"><div class="r" style="height:18px"><span class="l" style="width:72px;height:18px;line-height:18px">出厂水压力</span><span class="v" style="width:72px;height:18px;line-height:19px">0.36 mPa</span></div><div class="r" style="height:18px"><span class="l" style="width:72px;height:18px;line-height:18px">出厂水浊度</span><span class="v" style="width:72px;height:18px;line-height:19px">0.12 NTU</span></div><div class="r" style="height:18px"><span class="l" style="width:72px;height:18px;line-height:18px;font-size:11.5px">出厂水PH值</span><span class="v" style="width:72px;height:18px;line-height:19px">6.23 PH</span></div><div class="r" style="height:18px"><span class="l" style="width:72px;height:18px;line-height:18px">出厂水余氯</span><span class="v" style="width:72px;height:18px;line-height:19px">0.56 mg/L</span></div></div>
<div class="tb" style="left:583px;top:568px"><div class="r" style="height:18px"><span class="l" style="width:72px;height:18px;line-height:18px">1#前加氯量</span><span class="v" style="width:72px;height:18px;line-height:19px">kg/n</span></div><div class="r" style="height:18px"><span class="l" style="width:72px;height:18px;line-height:18px">1#后加氯量</span><span class="v" style="width:72px;height:18px;line-height:19px">kg/n</span></div><div class="r" style="height:18px"><span class="l" style="width:72px;height:18px;line-height:18px">补加氯量</span><span class="v" style="width:72px;height:18px;line-height:19px">kg/n</span></div><div class="r" style="height:18px"><span class="l" style="width:72px;height:18px;line-height:18px">2#前加氯量</span><span class="v" style="width:72px;height:18px;line-height:19px">kg/n</span></div><div class="r" style="height:18px"><span class="l" style="width:72px;height:18px;line-height:18px">2#后加氯量</span><span class="v" style="width:72px;height:18px;line-height:19px">kg/n</span></div></div>
<div class="tb" style="left:256px;top:448px"><div class="r" style="height:18px"><span class="l" style="width:72px;height:18px;line-height:18px">1#液位</span><span class="v" style="width:72px;height:18px;line-height:19px">0.36 m</span></div><div class="r" style="height:18px"><span class="l" style="width:72px;height:18px;line-height:18px">1#界面</span><span class="v" style="width:72px;height:18px;line-height:19px">2.98 m</span></div></div>
<div class="tb" style="left:253px;top:510px"><div class="r"><span class="l" style="width:72px">2#液位</span></div><div class="r"><span class="l" style="width:72px;height:19px">2#界面</span></div></div><div class="abs" style="left:325px;top:510px;width:72px;height:37px;background:#141414"></div>
<div class="lb" style="left:623px;top:191px;width:110px;height:32px;line-height:30px">3#沉淀池</div>
<div class="tri" style="left:638px;top:222px;border-left-width:14px;border-right-width:14px;border-top-width:15px"></div>
<div class="lb" style="left:833px;top:186px;width:97px;height:33px;line-height:31px">3#砂滤池</div>
<div class="tri" style="left:847px;top:218px;border-left-width:14px;border-right-width:14px;border-top-width:15px"></div>
<div class="lb" style="left:619px;top:285px;width:108px;height:33px;line-height:31px">沉淀池</div>
<div class="tri" style="left:633px;top:317px;border-left-width:15px;border-right-width:15px;border-top-width:14px"></div>
<div class="lb" style="left:825px;top:290px;width:98px;height:36px;line-height:34px">砂滤池</div>
<div class="tri" style="left:840px;top:325px;border-left-width:14px;border-right-width:14px;border-top-width:15px"></div>
<div class="lb" style="left:1026px;top:228px;width:91px;height:34px;line-height:32px">3#清水池</div>
<div class="tri" style="left:1040px;top:261px;border-left-width:14px;border-right-width:14px;border-top-width:15px"></div>
<div class="lb" style="left:1201px;top:238px;width:107px;height:34px;line-height:32px">3#送水泵房</div>
<div class="tri" style="left:1215px;top:271px;border-left-width:14px;border-right-width:14px;border-top-width:16px"></div>
<div class="lb" style="left:448px;top:419px;width:88px;height:32px;line-height:30px">浓缩池</div>
<div class="tri" style="left:463px;top:450px;border-left-width:14px;border-right-width:14px;border-top-width:15px"></div>
<div class="lb" style="left:579px;top:435px;width:87px;height:34px;line-height:32px">脱水车间</div>
<div class="tri" style="left:593px;top:468px;border-left-width:14px;border-right-width:14px;border-top-width:15px"></div>
<div class="lb" style="left:686px;top:437px;width:83px;height:34px;line-height:32px">加药间</div>
<div class="tri" style="left:701px;top:470px;border-left-width:14px;border-right-width:14px;border-top-width:16px"></div>
<div class="lb" style="left:882px;top:424px;width:164px;height:35px;line-height:33px">排泥池及回用水池</div>
<div class="tri" style="left:898px;top:458px;border-left-width:13px;border-right-width:13px;border-top-width:14px"></div>
<div class="lb" style="left:1054px;top:444px;width:72px;height:34px;line-height:32px">清水池</div>
<div class="tri" style="left:1072px;top:477px;border-left-width:13px;border-right-width:13px;border-top-width:16px"></div>
<div class="lb" style="left:1230px;top:462px;width:92px;height:33px;line-height:31px">送水泵房</div>
<div class="tri" style="left:1243px;top:494px;border-left-width:15px;border-right-width:15px;border-top-width:15px"></div>
<div class="abs" style="left:1516px;top:57px;color:#fff;font-size:12px;font-weight:bold;line-height:18px">开启全屏</div>
<svg class="abs" style="left:1495px;top:56px" width="16" height="16" viewBox="0 0 16 16"><path d="M1 5V1H5M11 1H15V5M15 11V15H11M5 15H1V11" stroke="#fff" stroke-width="1.8" fill="none"/><rect x="4.5" y="4.5" width="7" height="7" stroke="#fff" stroke-width="1.6" fill="none"/></svg>
<div class="abs" style="left:242px;top:576px;width:99px;height:124px;background:rgba(38,40,48,0.6)"></div>
<svg class="abs" style="left:242px;top:576px" width="99" height="124" viewBox="242 576 99 124">
 <rect x="257.5" y="595.5" width="10.5" height="10.5" rx="1.5" fill="#fff"/>
 <rect x="257.5" y="632.5" width="10.5" height="10.5" rx="1.5" fill="#fff"/>
 <rect x="257.5" y="669.5" width="10.5" height="10.5" rx="1.5" fill="#3d8ef0"/>
 <path d="M259.8 675L262.2 677.4L266 672.6" stroke="#fff" stroke-width="1.2" fill="none"/>
 <path d="M313.2 610.5 L304.5 599.5 A10.9 10.9 0 1 1 321.9 599.5 Z" fill="#4656d6"/>
 <circle cx="313.2" cy="593.3" r="8.1" fill="#f4f4f6"/>
 <rect x="308" y="588.5" width="10.5" height="3" rx="1" fill="#4656d6"/><rect x="309" y="590.5" width="8.5" height="7" rx="3.5" fill="none" stroke="#4656d6" stroke-width="1.3"/>
 <circle cx="313.2" cy="595.5" r="1.6" fill="#4656d6"/>
 <path d="M313.2 648 L304.5 637 A10.9 10.9 0 1 1 321.9 637 Z" fill="#c9a16c"/>
 <circle cx="313.2" cy="630.8" r="8.1" fill="#f6f0e8"/>
 <rect x="309.5" y="625.5" width="7.5" height="10.5" fill="none" stroke="#c9a16c" stroke-width="1.3"/><circle cx="315" cy="631" r="0.8" fill="#c9a16c"/>
 <path d="M313.2 685 L304.5 674 A10.9 10.9 0 1 1 321.9 674 Z" fill="#5bb9ec"/>
 <circle cx="313.2" cy="667.8" r="8.1" fill="#f2f7fb"/>
 <path d="M308.5 664 L312.5 663.5 L318.5 669.5 L314.5 673.5 L308.5 667.5 Z" fill="none" stroke="#8fd0f0" stroke-width="1.2"/><circle cx="311" cy="665.8" r="0.9" fill="#8fd0f0"/>
</svg>
<div class="abs" style="left:275px;top:594px;font-size:10.5px;line-height:14px;color:#fff">视频</div>
<div class="abs" style="left:275px;top:631px;font-size:10.5px;line-height:14px;color:#fff">门禁</div>
<div class="abs" style="left:275px;top:668px;font-size:10.5px;line-height:14px;color:#3d8ef0">标签</div>

</body></html>
